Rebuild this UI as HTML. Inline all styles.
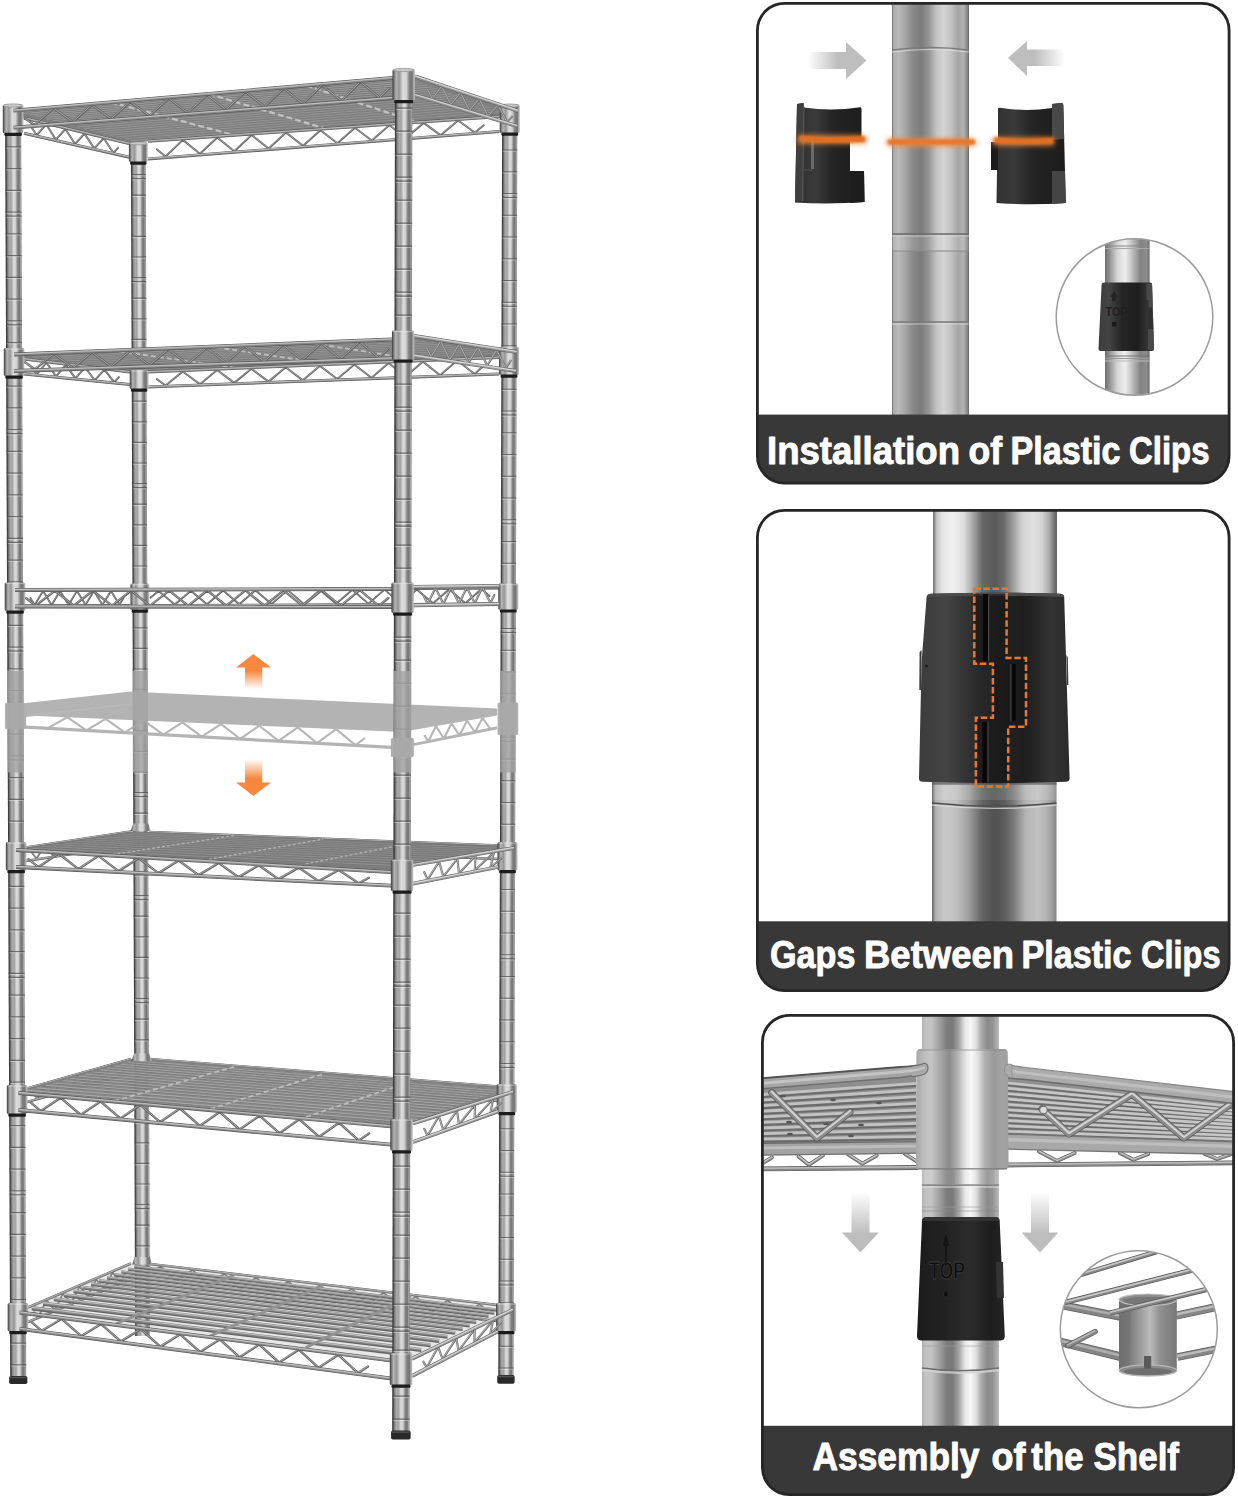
<!DOCTYPE html>
<html lang="en"><head><meta charset="utf-8"><title>Wire shelf assembly</title>
<style>html,body{margin:0;padding:0;background:#fff}svg{display:block}</style></head>
<body>
<svg width="1238" height="1500" viewBox="0 0 1238 1500">

<defs>
  <linearGradient id="gPole" x1="0" x2="1" y1="0" y2="0">
    <stop offset="0" stop-color="#2f2f2f"/>
    <stop offset="0.07" stop-color="#4f4f4f"/>
    <stop offset="0.13" stop-color="#828282"/>
    <stop offset="0.25" stop-color="#acacac"/>
    <stop offset="0.35" stop-color="#a0a0a0"/>
    <stop offset="0.5" stop-color="#dcdcdc"/>
    <stop offset="0.62" stop-color="#d0d0d0"/>
    <stop offset="0.75" stop-color="#828282"/>
    <stop offset="0.86" stop-color="#757575"/>
    <stop offset="0.94" stop-color="#a6a6a6"/>
    <stop offset="1" stop-color="#848484"/>
  </linearGradient>
  <linearGradient id="gCollar" x1="0" x2="1" y1="0" y2="0">
    <stop offset="0" stop-color="#383838"/>
    <stop offset="0.05" stop-color="#646464"/>
    <stop offset="0.16" stop-color="#b4b4b4"/>
    <stop offset="0.3" stop-color="#969696"/>
    <stop offset="0.46" stop-color="#dddddd"/>
    <stop offset="0.62" stop-color="#d4d4d4"/>
    <stop offset="0.76" stop-color="#7f7f7f"/>
    <stop offset="0.88" stop-color="#757575"/>
    <stop offset="0.95" stop-color="#afafaf"/>
    <stop offset="1" stop-color="#bdbdbd"/>
  </linearGradient>
  <linearGradient id="gBig1" x1="0" x2="1" y1="0" y2="0">
    <stop offset="0" stop-color="#555555"/>
    <stop offset="0.015" stop-color="#aaaaaa"/>
    <stop offset="0.08" stop-color="#bababa"/>
    <stop offset="0.16" stop-color="#a9a9a9"/>
    <stop offset="0.27" stop-color="#898989"/>
    <stop offset="0.38" stop-color="#7b7b7b"/>
    <stop offset="0.48" stop-color="#969696"/>
    <stop offset="0.58" stop-color="#c4c4c4"/>
    <stop offset="0.67" stop-color="#d4d4d4"/>
    <stop offset="0.76" stop-color="#c4c4c4"/>
    <stop offset="0.86" stop-color="#a5a5a5"/>
    <stop offset="0.93" stop-color="#b2b2b2"/>
    <stop offset="0.985" stop-color="#828282"/>
    <stop offset="1" stop-color="#606060"/>
  </linearGradient>
  <linearGradient id="gInset" x1="0" x2="1" y1="0" y2="0">
    <stop offset="0" stop-color="#6e6e6e"/>
    <stop offset="0.1" stop-color="#929292"/>
    <stop offset="0.28" stop-color="#d6d6d6"/>
    <stop offset="0.45" stop-color="#efefef"/>
    <stop offset="0.6" stop-color="#c2c2c2"/>
    <stop offset="0.8" stop-color="#828282"/>
    <stop offset="0.93" stop-color="#8e8e8e"/>
    <stop offset="1" stop-color="#6c6c6c"/>
  </linearGradient>
  <linearGradient id="gBig2" x1="0" x2="1" y1="0" y2="0">
    <stop offset="0" stop-color="#6c6c6c"/>
    <stop offset="0.03" stop-color="#c4c4c4"/>
    <stop offset="0.08" stop-color="#e6e6e6"/>
    <stop offset="0.16" stop-color="#f0f0f0"/>
    <stop offset="0.25" stop-color="#dcdcdc"/>
    <stop offset="0.32" stop-color="#a8a8a8"/>
    <stop offset="0.4" stop-color="#686868"/>
    <stop offset="0.5" stop-color="#595959"/>
    <stop offset="0.57" stop-color="#6a6a6a"/>
    <stop offset="0.64" stop-color="#9a9a9a"/>
    <stop offset="0.72" stop-color="#d2d2d2"/>
    <stop offset="0.8" stop-color="#e0e0e0"/>
    <stop offset="0.88" stop-color="#d4d4d4"/>
    <stop offset="0.94" stop-color="#a8a8a8"/>
    <stop offset="0.98" stop-color="#707070"/>
    <stop offset="1" stop-color="#666"/>
  </linearGradient>
  <linearGradient id="gBig2b" x1="0" x2="1" y1="0" y2="0">
    <stop offset="0" stop-color="#666"/>
    <stop offset="0.03" stop-color="#b2b2b2"/>
    <stop offset="0.1" stop-color="#c8c8c8"/>
    <stop offset="0.2" stop-color="#c0c0c0"/>
    <stop offset="0.3" stop-color="#9c9c9c"/>
    <stop offset="0.4" stop-color="#646464"/>
    <stop offset="0.5" stop-color="#515151"/>
    <stop offset="0.58" stop-color="#5c5c5c"/>
    <stop offset="0.66" stop-color="#7c7c7c"/>
    <stop offset="0.75" stop-color="#b4b4b4"/>
    <stop offset="0.85" stop-color="#c2c2c2"/>
    <stop offset="0.92" stop-color="#b2b2b2"/>
    <stop offset="0.97" stop-color="#9a9a9a"/>
    <stop offset="1" stop-color="#808080"/>
  </linearGradient>
  <linearGradient id="gBig3" x1="0" x2="1" y1="0" y2="0">
    <stop offset="0" stop-color="#b0b0b0"/>
    <stop offset="0.04" stop-color="#c2c2c2"/>
    <stop offset="0.12" stop-color="#c4c4c4"/>
    <stop offset="0.22" stop-color="#a2a2a2"/>
    <stop offset="0.32" stop-color="#7d7d7d"/>
    <stop offset="0.4" stop-color="#797979"/>
    <stop offset="0.48" stop-color="#a5a5a5"/>
    <stop offset="0.56" stop-color="#e8e8e8"/>
    <stop offset="0.63" stop-color="#f6f6f6"/>
    <stop offset="0.7" stop-color="#e0e0e0"/>
    <stop offset="0.77" stop-color="#ababab"/>
    <stop offset="0.85" stop-color="#8a8a8a"/>
    <stop offset="0.92" stop-color="#939393"/>
    <stop offset="0.97" stop-color="#adadad"/>
    <stop offset="1" stop-color="#b8b8b8"/>
  </linearGradient>
  <linearGradient id="gSleeve3" x1="0" x2="1" y1="0" y2="0">
    <stop offset="0" stop-color="#a6a6a6"/>
    <stop offset="0.08" stop-color="#bcbcbc"/>
    <stop offset="0.16" stop-color="#c6c6c6"/>
    <stop offset="0.26" stop-color="#a8a8a8"/>
    <stop offset="0.36" stop-color="#8b8b8b"/>
    <stop offset="0.45" stop-color="#b2b2b2"/>
    <stop offset="0.54" stop-color="#e6e6e6"/>
    <stop offset="0.6" stop-color="#f8f8f8"/>
    <stop offset="0.67" stop-color="#e2e2e2"/>
    <stop offset="0.74" stop-color="#b2b2b2"/>
    <stop offset="0.84" stop-color="#999"/>
    <stop offset="0.93" stop-color="#a3a3a3"/>
    <stop offset="1" stop-color="#a0a0a0"/>
  </linearGradient>
  <linearGradient id="gSleeve4" x1="0" x2="1" y1="0" y2="0">
    <stop offset="0" stop-color="#6f6f6f"/>
    <stop offset="0.2" stop-color="#7e7e7e"/>
    <stop offset="0.42" stop-color="#a6a6a6"/>
    <stop offset="0.54" stop-color="#bcbcbc"/>
    <stop offset="0.7" stop-color="#919191"/>
    <stop offset="1" stop-color="#777777"/>
  </linearGradient>
  <linearGradient id="gClip" x1="0" x2="1" y1="0" y2="0">
    <stop offset="0" stop-color="#2e2e2e"/>
    <stop offset="0.3" stop-color="#3a3a3a"/>
    <stop offset="0.55" stop-color="#242424"/>
    <stop offset="1" stop-color="#1c1c1c"/>
  </linearGradient>
  <linearGradient id="gClipBig" x1="0" x2="1" y1="0" y2="0">
    <stop offset="0" stop-color="#3c3c3c"/>
    <stop offset="0.18" stop-color="#444"/>
    <stop offset="0.42" stop-color="#262626"/>
    <stop offset="0.7" stop-color="#1e1e1e"/>
    <stop offset="0.88" stop-color="#333"/>
    <stop offset="1" stop-color="#2a2a2a"/>
  </linearGradient>
  <linearGradient id="gClip3" x1="0" x2="1" y1="0" y2="0">
    <stop offset="0" stop-color="#1b1b1b"/>
    <stop offset="0.3" stop-color="#222"/>
    <stop offset="0.6" stop-color="#2b2b2b"/>
    <stop offset="0.85" stop-color="#1d1d1d"/>
    <stop offset="1" stop-color="#262626"/>
  </linearGradient>
  <linearGradient id="fadeR" x1="0" x2="1" y1="0" y2="0">
    <stop offset="0" stop-color="#bebebe" stop-opacity="0"/>
    <stop offset="0.75" stop-color="#bebebe" stop-opacity="1"/>
  </linearGradient>
  <linearGradient id="fadeL" x1="1" x2="0" y1="0" y2="0">
    <stop offset="0" stop-color="#bebebe" stop-opacity="0"/>
    <stop offset="0.75" stop-color="#bebebe" stop-opacity="1"/>
  </linearGradient>
  <linearGradient id="fadeD" x1="0" x2="0" y1="0" y2="1">
    <stop offset="0" stop-color="#bdbdbd" stop-opacity="0"/>
    <stop offset="1" stop-color="#bdbdbd" stop-opacity="1"/>
  </linearGradient>
  <linearGradient id="fadeOD" x1="0" x2="0" y1="0" y2="1">
    <stop offset="0" stop-color="#f6883f" stop-opacity="0"/>
    <stop offset="0.8" stop-color="#f6883f" stop-opacity="1"/>
  </linearGradient>
  <linearGradient id="fadeOU" x1="0" x2="0" y1="1" y2="0">
    <stop offset="0" stop-color="#f6883f" stop-opacity="0"/>
    <stop offset="0.8" stop-color="#f6883f" stop-opacity="1"/>
  </linearGradient>
  <filter id="blur2" filterUnits="userSpaceOnUse" x="770" y="110" width="320" height="70"><feGaussianBlur stdDeviation="2.4"/></filter>
  <filter id="blur1" filterUnits="userSpaceOnUse" x="770" y="110" width="320" height="70"><feGaussianBlur stdDeviation="0.8"/></filter>
  <clipPath id="cpP1"><rect x="757.5" y="3.5" width="471" height="479" rx="26"/></clipPath>
  <clipPath id="cpP2"><rect x="757.5" y="510.5" width="471" height="480" rx="26"/></clipPath>
  <clipPath id="cpP3"><rect x="762.5" y="1015.5" width="471" height="479" rx="26"/></clipPath>
  <clipPath id="cpC1"><circle cx="1134.5" cy="317" r="78"/></clipPath>
  <clipPath id="cpC2"><circle cx="1138.8" cy="1329.3" r="78"/></clipPath>
</defs>

<rect width="1238" height="1500" fill="#fff"/>
<g id="shelf">
<g transform="matrix(1 0 0.00360 1 137.75 0)">
<rect x="-7.4" y="142.7" width="14.8" height="1193.3" fill="url(#gPole)"/>
<rect x="-7.4" y="153.4" width="14.8" height="1.2" fill="#4f4f4f" opacity=".75"/><rect x="-6.4" y="154.7" width="12.8" height="1" fill="#f2f2f2" opacity=".4"/><rect x="-7.4" y="174" width="14.8" height="1.2" fill="#4f4f4f" opacity=".75"/><rect x="-6.4" y="175.3" width="12.8" height="1" fill="#f2f2f2" opacity=".4"/><rect x="-7.4" y="178" width="14.8" height="1.2" fill="#4f4f4f" opacity=".75"/><rect x="-6.4" y="179.3" width="12.8" height="1" fill="#f2f2f2" opacity=".38"/><rect x="-7.4" y="194.6" width="14.8" height="1.2" fill="#4f4f4f" opacity=".75"/><rect x="-6.4" y="195.9" width="12.8" height="1" fill="#f2f2f2" opacity=".4"/><rect x="-7.4" y="215.2" width="14.8" height="1.2" fill="#4f4f4f" opacity=".75"/><rect x="-6.4" y="216.5" width="12.8" height="1" fill="#f2f2f2" opacity=".4"/><rect x="-7.4" y="235.8" width="14.8" height="1.2" fill="#4f4f4f" opacity=".75"/><rect x="-6.4" y="237.1" width="12.8" height="1" fill="#f2f2f2" opacity=".4"/><rect x="-7.4" y="256.4" width="14.8" height="1.2" fill="#4f4f4f" opacity=".75"/><rect x="-6.4" y="257.7" width="12.8" height="1" fill="#f2f2f2" opacity=".4"/><rect x="-7.4" y="277" width="14.8" height="1.2" fill="#4f4f4f" opacity=".75"/><rect x="-6.4" y="278.3" width="12.8" height="1" fill="#f2f2f2" opacity=".4"/><rect x="-7.4" y="281" width="14.8" height="1.2" fill="#4f4f4f" opacity=".75"/><rect x="-6.4" y="282.3" width="12.8" height="1" fill="#f2f2f2" opacity=".38"/><rect x="-7.4" y="297.6" width="14.8" height="1.2" fill="#4f4f4f" opacity=".75"/><rect x="-6.4" y="298.9" width="12.8" height="1" fill="#f2f2f2" opacity=".4"/><rect x="-7.4" y="318.2" width="14.8" height="1.2" fill="#4f4f4f" opacity=".75"/><rect x="-6.4" y="319.5" width="12.8" height="1" fill="#f2f2f2" opacity=".4"/><rect x="-7.4" y="338.8" width="14.8" height="1.2" fill="#4f4f4f" opacity=".75"/><rect x="-6.4" y="340.1" width="12.8" height="1" fill="#f2f2f2" opacity=".4"/><rect x="-7.4" y="359.4" width="14.8" height="1.2" fill="#4f4f4f" opacity=".75"/><rect x="-6.4" y="360.7" width="12.8" height="1" fill="#f2f2f2" opacity=".4"/><rect x="-7.4" y="380" width="14.8" height="1.2" fill="#4f4f4f" opacity=".75"/><rect x="-6.4" y="381.3" width="12.8" height="1" fill="#f2f2f2" opacity=".4"/><rect x="-7.4" y="384" width="14.8" height="1.2" fill="#4f4f4f" opacity=".75"/><rect x="-6.4" y="385.3" width="12.8" height="1" fill="#f2f2f2" opacity=".38"/><rect x="-7.4" y="400.6" width="14.8" height="1.2" fill="#4f4f4f" opacity=".75"/><rect x="-6.4" y="401.9" width="12.8" height="1" fill="#f2f2f2" opacity=".4"/><rect x="-7.4" y="421.2" width="14.8" height="1.2" fill="#4f4f4f" opacity=".75"/><rect x="-6.4" y="422.5" width="12.8" height="1" fill="#f2f2f2" opacity=".4"/><rect x="-7.4" y="441.8" width="14.8" height="1.2" fill="#4f4f4f" opacity=".75"/><rect x="-6.4" y="443.1" width="12.8" height="1" fill="#f2f2f2" opacity=".4"/><rect x="-7.4" y="462.4" width="14.8" height="1.2" fill="#4f4f4f" opacity=".75"/><rect x="-6.4" y="463.7" width="12.8" height="1" fill="#f2f2f2" opacity=".4"/><rect x="-7.4" y="483" width="14.8" height="1.2" fill="#4f4f4f" opacity=".75"/><rect x="-6.4" y="484.3" width="12.8" height="1" fill="#f2f2f2" opacity=".4"/><rect x="-7.4" y="487" width="14.8" height="1.2" fill="#4f4f4f" opacity=".75"/><rect x="-6.4" y="488.3" width="12.8" height="1" fill="#f2f2f2" opacity=".38"/><rect x="-7.4" y="503.6" width="14.8" height="1.2" fill="#4f4f4f" opacity=".75"/><rect x="-6.4" y="504.9" width="12.8" height="1" fill="#f2f2f2" opacity=".4"/><rect x="-7.4" y="524.2" width="14.8" height="1.2" fill="#4f4f4f" opacity=".75"/><rect x="-6.4" y="525.5" width="12.8" height="1" fill="#f2f2f2" opacity=".4"/><rect x="-7.4" y="544.8" width="14.8" height="1.2" fill="#4f4f4f" opacity=".75"/><rect x="-6.4" y="546.1" width="12.8" height="1" fill="#f2f2f2" opacity=".4"/><rect x="-7.4" y="565.4" width="14.8" height="1.2" fill="#4f4f4f" opacity=".75"/><rect x="-6.4" y="566.7" width="12.8" height="1" fill="#f2f2f2" opacity=".4"/><rect x="-7.4" y="586" width="14.8" height="1.2" fill="#4f4f4f" opacity=".75"/><rect x="-6.4" y="587.3" width="12.8" height="1" fill="#f2f2f2" opacity=".4"/><rect x="-7.4" y="590" width="14.8" height="1.2" fill="#4f4f4f" opacity=".75"/><rect x="-6.4" y="591.3" width="12.8" height="1" fill="#f2f2f2" opacity=".38"/><rect x="-7.4" y="606.6" width="14.8" height="1.2" fill="#4f4f4f" opacity=".75"/><rect x="-6.4" y="607.9" width="12.8" height="1" fill="#f2f2f2" opacity=".4"/><rect x="-7.4" y="627.2" width="14.8" height="1.2" fill="#4f4f4f" opacity=".75"/><rect x="-6.4" y="628.5" width="12.8" height="1" fill="#f2f2f2" opacity=".4"/><rect x="-7.4" y="647.8" width="14.8" height="1.2" fill="#4f4f4f" opacity=".75"/><rect x="-6.4" y="649.1" width="12.8" height="1" fill="#f2f2f2" opacity=".4"/><rect x="-7.4" y="668.4" width="14.8" height="1.2" fill="#4f4f4f" opacity=".75"/><rect x="-6.4" y="669.7" width="12.8" height="1" fill="#f2f2f2" opacity=".4"/><rect x="-7.4" y="689" width="14.8" height="1.2" fill="#4f4f4f" opacity=".75"/><rect x="-6.4" y="690.3" width="12.8" height="1" fill="#f2f2f2" opacity=".4"/><rect x="-7.4" y="693" width="14.8" height="1.2" fill="#4f4f4f" opacity=".75"/><rect x="-6.4" y="694.3" width="12.8" height="1" fill="#f2f2f2" opacity=".38"/><rect x="-7.4" y="709.6" width="14.8" height="1.2" fill="#4f4f4f" opacity=".75"/><rect x="-6.4" y="710.9" width="12.8" height="1" fill="#f2f2f2" opacity=".4"/><rect x="-7.4" y="730.2" width="14.8" height="1.2" fill="#4f4f4f" opacity=".75"/><rect x="-6.4" y="731.5" width="12.8" height="1" fill="#f2f2f2" opacity=".4"/><rect x="-7.4" y="750.8" width="14.8" height="1.2" fill="#4f4f4f" opacity=".75"/><rect x="-6.4" y="752.1" width="12.8" height="1" fill="#f2f2f2" opacity=".4"/><rect x="-7.4" y="771.4" width="14.8" height="1.2" fill="#4f4f4f" opacity=".75"/><rect x="-6.4" y="772.7" width="12.8" height="1" fill="#f2f2f2" opacity=".4"/><rect x="-7.4" y="792" width="14.8" height="1.2" fill="#4f4f4f" opacity=".75"/><rect x="-6.4" y="793.3" width="12.8" height="1" fill="#f2f2f2" opacity=".4"/><rect x="-7.4" y="796" width="14.8" height="1.2" fill="#4f4f4f" opacity=".75"/><rect x="-6.4" y="797.3" width="12.8" height="1" fill="#f2f2f2" opacity=".38"/><rect x="-7.4" y="812.6" width="14.8" height="1.2" fill="#4f4f4f" opacity=".75"/><rect x="-6.4" y="813.9" width="12.8" height="1" fill="#f2f2f2" opacity=".4"/><rect x="-7.4" y="833.2" width="14.8" height="1.2" fill="#4f4f4f" opacity=".75"/><rect x="-6.4" y="834.5" width="12.8" height="1" fill="#f2f2f2" opacity=".4"/><rect x="-7.4" y="853.8" width="14.8" height="1.2" fill="#4f4f4f" opacity=".75"/><rect x="-6.4" y="855.1" width="12.8" height="1" fill="#f2f2f2" opacity=".4"/><rect x="-7.4" y="874.4" width="14.8" height="1.2" fill="#4f4f4f" opacity=".75"/><rect x="-6.4" y="875.7" width="12.8" height="1" fill="#f2f2f2" opacity=".4"/><rect x="-7.4" y="895" width="14.8" height="1.2" fill="#4f4f4f" opacity=".75"/><rect x="-6.4" y="896.3" width="12.8" height="1" fill="#f2f2f2" opacity=".4"/><rect x="-7.4" y="899" width="14.8" height="1.2" fill="#4f4f4f" opacity=".75"/><rect x="-6.4" y="900.3" width="12.8" height="1" fill="#f2f2f2" opacity=".38"/><rect x="-7.4" y="915.6" width="14.8" height="1.2" fill="#4f4f4f" opacity=".75"/><rect x="-6.4" y="916.9" width="12.8" height="1" fill="#f2f2f2" opacity=".4"/><rect x="-7.4" y="936.2" width="14.8" height="1.2" fill="#4f4f4f" opacity=".75"/><rect x="-6.4" y="937.5" width="12.8" height="1" fill="#f2f2f2" opacity=".4"/><rect x="-7.4" y="956.8" width="14.8" height="1.2" fill="#4f4f4f" opacity=".75"/><rect x="-6.4" y="958.1" width="12.8" height="1" fill="#f2f2f2" opacity=".4"/><rect x="-7.4" y="977.4" width="14.8" height="1.2" fill="#4f4f4f" opacity=".75"/><rect x="-6.4" y="978.7" width="12.8" height="1" fill="#f2f2f2" opacity=".4"/><rect x="-7.4" y="998" width="14.8" height="1.2" fill="#4f4f4f" opacity=".75"/><rect x="-6.4" y="999.3" width="12.8" height="1" fill="#f2f2f2" opacity=".4"/><rect x="-7.4" y="1002" width="14.8" height="1.2" fill="#4f4f4f" opacity=".75"/><rect x="-6.4" y="1003.3" width="12.8" height="1" fill="#f2f2f2" opacity=".38"/><rect x="-7.4" y="1018.6" width="14.8" height="1.2" fill="#4f4f4f" opacity=".75"/><rect x="-6.4" y="1019.9" width="12.8" height="1" fill="#f2f2f2" opacity=".4"/><rect x="-7.4" y="1039.2" width="14.8" height="1.2" fill="#4f4f4f" opacity=".75"/><rect x="-6.4" y="1040.5" width="12.8" height="1" fill="#f2f2f2" opacity=".4"/><rect x="-7.4" y="1059.8" width="14.8" height="1.2" fill="#4f4f4f" opacity=".75"/><rect x="-6.4" y="1061.1" width="12.8" height="1" fill="#f2f2f2" opacity=".4"/><rect x="-7.4" y="1080.4" width="14.8" height="1.2" fill="#4f4f4f" opacity=".75"/><rect x="-6.4" y="1081.7" width="12.8" height="1" fill="#f2f2f2" opacity=".4"/><rect x="-7.4" y="1101" width="14.8" height="1.2" fill="#4f4f4f" opacity=".75"/><rect x="-6.4" y="1102.3" width="12.8" height="1" fill="#f2f2f2" opacity=".4"/><rect x="-7.4" y="1105" width="14.8" height="1.2" fill="#4f4f4f" opacity=".75"/><rect x="-6.4" y="1106.3" width="12.8" height="1" fill="#f2f2f2" opacity=".38"/><rect x="-7.4" y="1121.6" width="14.8" height="1.2" fill="#4f4f4f" opacity=".75"/><rect x="-6.4" y="1122.9" width="12.8" height="1" fill="#f2f2f2" opacity=".4"/><rect x="-7.4" y="1142.2" width="14.8" height="1.2" fill="#4f4f4f" opacity=".75"/><rect x="-6.4" y="1143.5" width="12.8" height="1" fill="#f2f2f2" opacity=".4"/><rect x="-7.4" y="1162.8" width="14.8" height="1.2" fill="#4f4f4f" opacity=".75"/><rect x="-6.4" y="1164.1" width="12.8" height="1" fill="#f2f2f2" opacity=".4"/><rect x="-7.4" y="1183.4" width="14.8" height="1.2" fill="#4f4f4f" opacity=".75"/><rect x="-6.4" y="1184.7" width="12.8" height="1" fill="#f2f2f2" opacity=".4"/><rect x="-7.4" y="1204" width="14.8" height="1.2" fill="#4f4f4f" opacity=".75"/><rect x="-6.4" y="1205.3" width="12.8" height="1" fill="#f2f2f2" opacity=".4"/><rect x="-7.4" y="1208" width="14.8" height="1.2" fill="#4f4f4f" opacity=".75"/><rect x="-6.4" y="1209.3" width="12.8" height="1" fill="#f2f2f2" opacity=".38"/><rect x="-7.4" y="1224.6" width="14.8" height="1.2" fill="#4f4f4f" opacity=".75"/><rect x="-6.4" y="1225.9" width="12.8" height="1" fill="#f2f2f2" opacity=".4"/><rect x="-7.4" y="1245.2" width="14.8" height="1.2" fill="#4f4f4f" opacity=".75"/><rect x="-6.4" y="1246.5" width="12.8" height="1" fill="#f2f2f2" opacity=".4"/><rect x="-7.4" y="1265.8" width="14.8" height="1.2" fill="#4f4f4f" opacity=".75"/><rect x="-6.4" y="1267.1" width="12.8" height="1" fill="#f2f2f2" opacity=".4"/><rect x="-7.4" y="1286.4" width="14.8" height="1.2" fill="#4f4f4f" opacity=".75"/><rect x="-6.4" y="1287.7" width="12.8" height="1" fill="#f2f2f2" opacity=".4"/><rect x="-7.4" y="1307" width="14.8" height="1.2" fill="#4f4f4f" opacity=".75"/><rect x="-6.4" y="1308.3" width="12.8" height="1" fill="#f2f2f2" opacity=".4"/><rect x="-7.4" y="1311" width="14.8" height="1.2" fill="#4f4f4f" opacity=".75"/><rect x="-6.4" y="1312.3" width="12.8" height="1" fill="#f2f2f2" opacity=".38"/><rect x="-7.4" y="1327.6" width="14.8" height="1.2" fill="#4f4f4f" opacity=".75"/><rect x="-6.4" y="1328.9" width="12.8" height="1" fill="#f2f2f2" opacity=".4"/>
</g>
<polyline points="151.44,838.59 159.47,833.19 175.52,845.28 191.58,834.43 207.63,846.57 223.69,835.68 239.74,847.85 255.79,836.92 271.85,849.14 287.9,838.16 303.96,850.42 320.01,839.41 336.06,851.71 352.12,840.65 368.17,852.99 384.23,841.9 400.28,854.28 416.33,843.14 432.39,855.56 448.44,844.39 464.5,856.85 480.55,845.63 488.58,851.88" fill="none" stroke="#656565" stroke-width="1.8" stroke-linejoin="round" stroke-linecap="round"/>
<polyline points="151.24,838.34 159.27,832.94 175.32,845.03 191.38,834.18 207.43,846.32 223.49,835.43 239.54,847.6 255.59,836.67 271.65,848.89 287.7,837.91 303.76,850.17 319.81,839.16 335.86,851.46 351.92,840.4 367.97,852.74 384.03,841.65 400.08,854.03 416.13,842.89 432.19,855.31 448.24,844.14 464.3,856.6 480.35,845.38 488.38,851.63" fill="none" stroke="#a8a8a8" stroke-width="0.72" stroke-linejoin="round" stroke-linecap="round"/>
<line x1="149" y1="845" x2="498" y2="859" stroke="#585858" stroke-width="2.6" stroke-linecap="butt"/>
<line x1="149" y1="845" x2="498" y2="859" stroke="#888888" stroke-width="1.4" stroke-linecap="butt"/>
<line x1="149.01" y1="844.64" x2="498.01" y2="858.64" stroke="#bebebe" stroke-width="0.83" stroke-linecap="butt"/>
<line x1="149" y1="832" x2="498" y2="845.5" stroke="#585858" stroke-width="2.6" stroke-linecap="butt"/>
<line x1="149" y1="832" x2="498" y2="845.5" stroke="#888888" stroke-width="1.4" stroke-linecap="butt"/>
<line x1="149.01" y1="831.64" x2="498.01" y2="845.14" stroke="#bebebe" stroke-width="0.83" stroke-linecap="butt"/>
<polyline points="32.3,853.29 36.5,858.59 44.9,845.43 53.3,856.03 61.7,842.87 70.1,853.47 78.5,840.31 86.9,850.91 95.3,837.75 103.7,848.35 112.1,835.19 120.5,845.79 124.7,839.21" fill="none" stroke="#656565" stroke-width="1.8" stroke-linejoin="round" stroke-linecap="round"/>
<polyline points="32.1,853.04 36.3,858.34 44.7,845.18 53.1,855.78 61.5,842.62 69.9,853.22 78.3,840.06 86.7,850.66 95.1,837.5 103.5,848.1 111.9,834.94 120.3,845.54 124.5,838.96" fill="none" stroke="#a8a8a8" stroke-width="0.72" stroke-linejoin="round" stroke-linecap="round"/>
<line x1="26" y1="861" x2="131" y2="845" stroke="#585858" stroke-width="2.6" stroke-linecap="butt"/>
<line x1="26" y1="861" x2="131" y2="845" stroke="#888888" stroke-width="1.4" stroke-linecap="butt"/>
<line x1="25.95" y1="860.64" x2="130.95" y2="844.64" stroke="#bebebe" stroke-width="0.83" stroke-linecap="butt"/>
<line x1="26" y1="847.5" x2="131" y2="831.5" stroke="#585858" stroke-width="2.6" stroke-linecap="butt"/>
<line x1="26" y1="847.5" x2="131" y2="831.5" stroke="#888888" stroke-width="1.4" stroke-linecap="butt"/>
<line x1="25.95" y1="847.14" x2="130.95" y2="831.14" stroke="#bebebe" stroke-width="0.83" stroke-linecap="butt"/>
<polyline points="151.44,1066.19 159.47,1060.67 175.52,1074.29 191.58,1063.2 207.63,1076.86 223.69,1065.73 239.74,1079.43 255.79,1068.26 271.85,1082.01 287.9,1070.8 303.96,1084.58 320.01,1073.33 336.06,1087.15 352.12,1075.86 368.17,1089.73 384.23,1078.4 400.28,1092.3 416.33,1080.93 432.39,1094.87 448.44,1083.46 464.5,1097.44 480.55,1085.99 488.58,1093.01" fill="none" stroke="#656565" stroke-width="1.8" stroke-linejoin="round" stroke-linecap="round"/>
<polyline points="151.24,1065.94 159.27,1060.42 175.32,1074.04 191.38,1062.95 207.43,1076.61 223.49,1065.48 239.54,1079.18 255.59,1068.01 271.65,1081.76 287.7,1070.55 303.76,1084.33 319.81,1073.08 335.86,1086.9 351.92,1075.61 367.97,1089.48 384.03,1078.15 400.08,1092.05 416.13,1080.68 432.19,1094.62 448.24,1083.21 464.3,1097.19 480.35,1085.74 488.38,1092.76" fill="none" stroke="#a8a8a8" stroke-width="0.72" stroke-linejoin="round" stroke-linecap="round"/>
<line x1="149" y1="1073" x2="498" y2="1101" stroke="#585858" stroke-width="2.6" stroke-linecap="butt"/>
<line x1="149" y1="1073" x2="498" y2="1101" stroke="#888888" stroke-width="1.4" stroke-linecap="butt"/>
<line x1="149.03" y1="1072.64" x2="498.03" y2="1100.64" stroke="#bebebe" stroke-width="0.83" stroke-linecap="butt"/>
<line x1="149" y1="1059" x2="498" y2="1086.5" stroke="#585858" stroke-width="2.6" stroke-linecap="butt"/>
<line x1="149" y1="1059" x2="498" y2="1086.5" stroke="#888888" stroke-width="1.4" stroke-linecap="butt"/>
<line x1="149.03" y1="1058.64" x2="498.03" y2="1086.14" stroke="#bebebe" stroke-width="0.83" stroke-linecap="butt"/>
<polyline points="33.24,1093.5 37.4,1098.29 45.72,1084.01 54.04,1093.64 62.36,1079.29 70.68,1089 79,1074.58 87.32,1084.35 95.64,1069.86 103.96,1079.71 112.28,1065.14 120.6,1075.06 124.76,1067.75" fill="none" stroke="#656565" stroke-width="1.8" stroke-linejoin="round" stroke-linecap="round"/>
<polyline points="33.04,1093.25 37.2,1098.04 45.52,1083.76 53.84,1093.39 62.16,1079.04 70.48,1088.75 78.8,1074.33 87.12,1084.1 95.44,1069.61 103.76,1079.46 112.08,1064.89 120.4,1074.81 124.56,1067.5" fill="none" stroke="#a8a8a8" stroke-width="0.72" stroke-linejoin="round" stroke-linecap="round"/>
<line x1="27" y1="1102" x2="131" y2="1073" stroke="#585858" stroke-width="2.6" stroke-linecap="butt"/>
<line x1="27" y1="1102" x2="131" y2="1073" stroke="#888888" stroke-width="1.4" stroke-linecap="butt"/>
<line x1="26.9" y1="1101.65" x2="130.9" y2="1072.65" stroke="#bebebe" stroke-width="0.83" stroke-linecap="butt"/>
<line x1="27" y1="1088.5" x2="131" y2="1059" stroke="#585858" stroke-width="2.6" stroke-linecap="butt"/>
<line x1="27" y1="1088.5" x2="131" y2="1059" stroke="#888888" stroke-width="1.4" stroke-linecap="butt"/>
<line x1="26.9" y1="1088.15" x2="130.9" y2="1058.65" stroke="#bebebe" stroke-width="0.83" stroke-linecap="butt"/>
<polyline points="152.43,1271.78 160.41,1266.13 176.37,1281.29 192.33,1269.91 208.3,1285.15 224.26,1273.69 240.22,1289 256.18,1277.46 272.14,1292.86 288.11,1281.24 304.07,1296.72 320.03,1285.02 335.99,1300.58 351.95,1288.8 367.92,1304.44 383.88,1292.57 399.84,1308.3 415.8,1296.35 431.76,1312.16 447.73,1300.13 463.69,1316.01 479.65,1303.91 487.63,1311.89" fill="none" stroke="#656565" stroke-width="1.8" stroke-linejoin="round" stroke-linecap="round"/>
<polyline points="152.23,1271.53 160.21,1265.88 176.17,1281.04 192.13,1269.66 208.1,1284.9 224.06,1273.44 240.02,1288.75 255.98,1277.21 271.94,1292.61 287.91,1280.99 303.87,1296.47 319.83,1284.77 335.79,1300.33 351.75,1288.55 367.72,1304.19 383.68,1292.32 399.64,1308.05 415.6,1296.1 431.56,1311.91 447.53,1299.88 463.49,1315.76 479.45,1303.66 487.43,1311.64" fill="none" stroke="#a8a8a8" stroke-width="0.72" stroke-linejoin="round" stroke-linecap="round"/>
<line x1="150" y1="1279" x2="497" y2="1321" stroke="#585858" stroke-width="2.6" stroke-linecap="butt"/>
<line x1="150" y1="1279" x2="497" y2="1321" stroke="#888888" stroke-width="1.4" stroke-linecap="butt"/>
<line x1="150.04" y1="1278.64" x2="497.04" y2="1320.64" stroke="#bebebe" stroke-width="0.83" stroke-linecap="butt"/>
<line x1="150" y1="1264" x2="497" y2="1305" stroke="#585858" stroke-width="2.6" stroke-linecap="butt"/>
<line x1="150" y1="1264" x2="497" y2="1305" stroke="#888888" stroke-width="1.4" stroke-linecap="butt"/>
<line x1="150.04" y1="1263.64" x2="497.04" y2="1304.64" stroke="#bebebe" stroke-width="0.83" stroke-linecap="butt"/>
<polyline points="34.18,1312.16 38.3,1316.82 46.54,1300.46 54.78,1309.93 63.02,1293.43 71.26,1303.04 79.5,1286.4 87.74,1296.16 95.98,1279.37 104.22,1289.27 112.46,1272.34 120.7,1282.38 124.82,1273.84" fill="none" stroke="#656565" stroke-width="1.8" stroke-linejoin="round" stroke-linecap="round"/>
<polyline points="33.98,1311.91 38.1,1316.57 46.34,1300.21 54.58,1309.68 62.82,1293.18 71.06,1302.79 79.3,1286.15 87.54,1295.91 95.78,1279.12 104.02,1289.02 112.26,1272.09 120.5,1282.13 124.62,1273.59" fill="none" stroke="#a8a8a8" stroke-width="0.72" stroke-linejoin="round" stroke-linecap="round"/>
<line x1="28" y1="1322" x2="131" y2="1279" stroke="#585858" stroke-width="2.6" stroke-linecap="butt"/>
<line x1="28" y1="1322" x2="131" y2="1279" stroke="#888888" stroke-width="1.4" stroke-linecap="butt"/>
<line x1="27.86" y1="1321.66" x2="130.86" y2="1278.66" stroke="#bebebe" stroke-width="0.83" stroke-linecap="butt"/>
<line x1="28" y1="1307.5" x2="131" y2="1263.5" stroke="#585858" stroke-width="2.6" stroke-linecap="butt"/>
<line x1="28" y1="1307.5" x2="131" y2="1263.5" stroke="#888888" stroke-width="1.4" stroke-linecap="butt"/>
<line x1="27.86" y1="1307.17" x2="130.86" y2="1263.17" stroke="#bebebe" stroke-width="0.83" stroke-linecap="butt"/>
<polygon points="16,850 26,847.5 131,831.5 149,832 498,845.5 514,848 413,865 391,872.2" fill="#787878" opacity="0.97"/>
<line x1="28.65" y1="848.62" x2="412.61" y2="866.85" stroke="#6f6f6f" stroke-width="0.61" opacity="1"/><line x1="28.65" y1="848.14" x2="412.61" y2="866.37" stroke="#959595" stroke-width="0.87" opacity="1"/><line x1="40.8" y1="846.82" x2="422.8" y2="864.7" stroke="#6f6f6f" stroke-width="0.59" opacity="1"/><line x1="40.8" y1="846.35" x2="422.8" y2="864.23" stroke="#959595" stroke-width="0.85" opacity="1"/><line x1="52.47" y1="845.08" x2="432.59" y2="862.62" stroke="#6f6f6f" stroke-width="0.57" opacity="1"/><line x1="52.47" y1="844.63" x2="432.59" y2="862.17" stroke="#959595" stroke-width="0.82" opacity="1"/><line x1="63.69" y1="843.42" x2="442" y2="860.63" stroke="#6f6f6f" stroke-width="0.56" opacity="1"/><line x1="63.69" y1="842.98" x2="442" y2="860.2" stroke="#959595" stroke-width="0.8" opacity="1"/><line x1="74.49" y1="841.82" x2="451.06" y2="858.72" stroke="#6f6f6f" stroke-width="0.54" opacity="1"/><line x1="74.49" y1="841.39" x2="451.06" y2="858.29" stroke="#959595" stroke-width="0.77" opacity="1"/><line x1="84.89" y1="840.27" x2="459.78" y2="856.87" stroke="#6f6f6f" stroke-width="0.52" opacity="1"/><line x1="84.89" y1="839.86" x2="459.78" y2="856.46" stroke="#959595" stroke-width="0.75" opacity="1"/><line x1="94.91" y1="838.79" x2="468.18" y2="855.1" stroke="#6f6f6f" stroke-width="0.51" opacity="1"/><line x1="94.91" y1="838.39" x2="468.18" y2="854.7" stroke="#959595" stroke-width="0.73" opacity="1"/><line x1="104.57" y1="837.35" x2="476.29" y2="853.38" stroke="#6f6f6f" stroke-width="0.49" opacity="1"/><line x1="104.57" y1="836.96" x2="476.29" y2="852.99" stroke="#959595" stroke-width="0.71" opacity="1"/><line x1="113.89" y1="835.97" x2="484.11" y2="851.73" stroke="#6f6f6f" stroke-width="0.48" opacity="1"/><line x1="113.89" y1="835.59" x2="484.11" y2="851.35" stroke="#959595" stroke-width="0.69" opacity="1"/><line x1="122.9" y1="834.63" x2="491.66" y2="850.13" stroke="#6f6f6f" stroke-width="0.47" opacity="1"/><line x1="122.9" y1="834.27" x2="491.66" y2="849.76" stroke="#959595" stroke-width="0.67" opacity="1"/><line x1="131.59" y1="833.34" x2="498.95" y2="848.59" stroke="#6f6f6f" stroke-width="0.45" opacity="1"/><line x1="131.59" y1="832.99" x2="498.95" y2="848.23" stroke="#959595" stroke-width="0.65" opacity="1"/>
<line x1="112.5" y1="854.65" x2="234.25" y2="835.61" stroke="#b4b4b4" stroke-width="1.3" stroke-dasharray="3 2"/>
<line x1="209" y1="859.3" x2="323" y2="839.25" stroke="#b4b4b4" stroke-width="1.3" stroke-dasharray="3 2"/>
<line x1="305.5" y1="863.95" x2="411.75" y2="842.89" stroke="#b4b4b4" stroke-width="1.3" stroke-dasharray="3 2"/>
<polygon points="18.5,1093 27,1088.5 131,1059 149,1059 498,1086.5 513,1091.8 413,1123.4 391,1126.4" fill="#7f7f7f" opacity="0.93"/>
<line x1="27.85" y1="1091.03" x2="409.96" y2="1122.79" stroke="#6e6e6e" stroke-width="0.82" opacity="1"/><line x1="27.85" y1="1090.38" x2="409.96" y2="1122.15" stroke="#a6a6a6" stroke-width="1.17" opacity="1"/><line x1="36.91" y1="1088.48" x2="417.68" y2="1120.11" stroke="#6e6e6e" stroke-width="0.8" opacity="1"/><line x1="36.91" y1="1087.85" x2="417.68" y2="1119.48" stroke="#a6a6a6" stroke-width="1.15" opacity="1"/><line x1="45.7" y1="1086" x2="425.17" y2="1117.51" stroke="#6e6e6e" stroke-width="0.78" opacity="1"/><line x1="45.7" y1="1085.39" x2="425.17" y2="1116.9" stroke="#a6a6a6" stroke-width="1.12" opacity="1"/><line x1="54.24" y1="1083.6" x2="432.44" y2="1114.99" stroke="#6e6e6e" stroke-width="0.77" opacity="1"/><line x1="54.24" y1="1083" x2="432.44" y2="1114.39" stroke="#a6a6a6" stroke-width="1.09" opacity="1"/><line x1="62.52" y1="1081.27" x2="439.5" y2="1112.54" stroke="#6e6e6e" stroke-width="0.75" opacity="1"/><line x1="62.52" y1="1080.68" x2="439.5" y2="1111.95" stroke="#a6a6a6" stroke-width="1.07" opacity="1"/><line x1="70.57" y1="1079" x2="446.36" y2="1110.15" stroke="#6e6e6e" stroke-width="0.73" opacity="1"/><line x1="70.57" y1="1078.43" x2="446.36" y2="1109.58" stroke="#a6a6a6" stroke-width="1.05" opacity="1"/><line x1="78.39" y1="1076.8" x2="453.02" y2="1107.84" stroke="#6e6e6e" stroke-width="0.72" opacity="1"/><line x1="78.39" y1="1076.24" x2="453.02" y2="1107.28" stroke="#a6a6a6" stroke-width="1.02" opacity="1"/><line x1="86" y1="1074.66" x2="459.5" y2="1105.59" stroke="#6e6e6e" stroke-width="0.7" opacity="1"/><line x1="86" y1="1074.11" x2="459.5" y2="1105.04" stroke="#a6a6a6" stroke-width="1" opacity="1"/><line x1="93.4" y1="1072.58" x2="465.8" y2="1103.4" stroke="#6e6e6e" stroke-width="0.68" opacity="1"/><line x1="93.4" y1="1072.04" x2="465.8" y2="1102.86" stroke="#a6a6a6" stroke-width="0.98" opacity="1"/><line x1="100.59" y1="1070.55" x2="471.93" y2="1101.27" stroke="#6e6e6e" stroke-width="0.67" opacity="1"/><line x1="100.59" y1="1070.03" x2="471.93" y2="1100.74" stroke="#a6a6a6" stroke-width="0.96" opacity="1"/><line x1="107.6" y1="1068.58" x2="477.9" y2="1099.2" stroke="#6e6e6e" stroke-width="0.66" opacity="1"/><line x1="107.6" y1="1068.07" x2="477.9" y2="1098.68" stroke="#a6a6a6" stroke-width="0.94" opacity="1"/><line x1="114.42" y1="1066.66" x2="483.71" y2="1097.18" stroke="#6e6e6e" stroke-width="0.64" opacity="1"/><line x1="114.42" y1="1066.16" x2="483.71" y2="1096.68" stroke="#a6a6a6" stroke-width="0.92" opacity="1"/><line x1="121.06" y1="1064.79" x2="489.37" y2="1095.21" stroke="#6e6e6e" stroke-width="0.63" opacity="1"/><line x1="121.06" y1="1064.3" x2="489.37" y2="1094.72" stroke="#a6a6a6" stroke-width="0.9" opacity="1"/><line x1="127.54" y1="1062.97" x2="494.88" y2="1093.3" stroke="#6e6e6e" stroke-width="0.61" opacity="1"/><line x1="127.54" y1="1062.49" x2="494.88" y2="1092.82" stroke="#a6a6a6" stroke-width="0.88" opacity="1"/><line x1="133.85" y1="1061.19" x2="500.26" y2="1091.43" stroke="#6e6e6e" stroke-width="0.6" opacity="1"/><line x1="133.85" y1="1060.72" x2="500.26" y2="1090.96" stroke="#a6a6a6" stroke-width="0.86" opacity="1"/>
<line x1="114.38" y1="1100.97" x2="234.12" y2="1066.76" stroke="#bdbdbd" stroke-width="1.8" stroke-dasharray="5 3"/>
<line x1="210.25" y1="1108.95" x2="322.75" y2="1074.08" stroke="#bdbdbd" stroke-width="1.8" stroke-dasharray="5 3"/>
<line x1="306.12" y1="1116.93" x2="411.38" y2="1081.39" stroke="#bdbdbd" stroke-width="1.8" stroke-dasharray="5 3"/>
<polygon points="19.6,1312.5 28,1307.5 131,1263.5 150,1264 497,1305 513,1309.6 412,1358.7 390,1360.4" fill="#9a9a9a" opacity="0.24"/>
<line x1="31.73" y1="1309.32" x2="411.44" y2="1356.01" stroke="#626262" stroke-width="2.17" opacity="1"/><line x1="31.73" y1="1307.61" x2="411.44" y2="1354.31" stroke="#868686" stroke-width="3.1" opacity="1"/><line x1="31.73" y1="1307.21" x2="411.44" y2="1353.91" stroke="#c4c4c4" stroke-width="1.09" opacity="1"/><line x1="43.13" y1="1304.67" x2="421.24" y2="1351.04" stroke="#626262" stroke-width="2.11" opacity="1"/><line x1="43.13" y1="1303.01" x2="421.24" y2="1349.38" stroke="#868686" stroke-width="3.01" opacity="1"/><line x1="43.13" y1="1302.61" x2="421.24" y2="1348.98" stroke="#c4c4c4" stroke-width="1.05" opacity="1"/><line x1="53.86" y1="1300.3" x2="430.47" y2="1346.35" stroke="#626262" stroke-width="2.05" opacity="1"/><line x1="53.86" y1="1298.68" x2="430.47" y2="1344.74" stroke="#868686" stroke-width="2.93" opacity="1"/><line x1="53.86" y1="1298.28" x2="430.47" y2="1344.34" stroke="#c4c4c4" stroke-width="1.02" opacity="1"/><line x1="63.98" y1="1296.17" x2="439.18" y2="1341.94" stroke="#626262" stroke-width="1.99" opacity="1"/><line x1="63.98" y1="1294.6" x2="439.18" y2="1340.37" stroke="#868686" stroke-width="2.85" opacity="1"/><line x1="63.98" y1="1294.2" x2="439.18" y2="1339.97" stroke="#c4c4c4" stroke-width="1" opacity="1"/><line x1="73.54" y1="1292.27" x2="447.4" y2="1337.76" stroke="#626262" stroke-width="1.94" opacity="1"/><line x1="73.54" y1="1290.75" x2="447.4" y2="1336.24" stroke="#868686" stroke-width="2.77" opacity="1"/><line x1="73.54" y1="1290.35" x2="447.4" y2="1335.84" stroke="#c4c4c4" stroke-width="0.97" opacity="1"/><line x1="82.58" y1="1288.59" x2="455.18" y2="1333.81" stroke="#626262" stroke-width="1.89" opacity="1"/><line x1="82.58" y1="1287.1" x2="455.18" y2="1332.33" stroke="#868686" stroke-width="2.7" opacity="1"/><line x1="82.58" y1="1286.7" x2="455.18" y2="1331.93" stroke="#c4c4c4" stroke-width="0.94" opacity="1"/><line x1="91.15" y1="1285.1" x2="462.55" y2="1330.07" stroke="#626262" stroke-width="1.84" opacity="1"/><line x1="91.15" y1="1283.65" x2="462.55" y2="1328.63" stroke="#868686" stroke-width="2.63" opacity="1"/><line x1="91.15" y1="1283.25" x2="462.55" y2="1328.23" stroke="#c4c4c4" stroke-width="0.92" opacity="1"/><line x1="99.28" y1="1281.78" x2="469.55" y2="1326.52" stroke="#626262" stroke-width="1.8" opacity="1"/><line x1="99.28" y1="1280.37" x2="469.55" y2="1325.11" stroke="#868686" stroke-width="2.57" opacity="1"/><line x1="99.28" y1="1279.97" x2="469.55" y2="1324.71" stroke="#c4c4c4" stroke-width="0.9" opacity="1"/><line x1="107.01" y1="1278.63" x2="476.19" y2="1323.15" stroke="#626262" stroke-width="1.75" opacity="1"/><line x1="107.01" y1="1277.25" x2="476.19" y2="1321.77" stroke="#868686" stroke-width="2.51" opacity="1"/><line x1="107.01" y1="1276.85" x2="476.19" y2="1321.37" stroke="#c4c4c4" stroke-width="0.88" opacity="1"/><line x1="114.36" y1="1275.64" x2="482.51" y2="1319.94" stroke="#626262" stroke-width="1.71" opacity="1"/><line x1="114.36" y1="1274.29" x2="482.51" y2="1318.6" stroke="#868686" stroke-width="2.45" opacity="1"/><line x1="114.36" y1="1273.89" x2="482.51" y2="1318.2" stroke="#c4c4c4" stroke-width="0.86" opacity="1"/><line x1="121.36" y1="1272.78" x2="488.54" y2="1316.89" stroke="#626262" stroke-width="1.67" opacity="1"/><line x1="121.36" y1="1271.47" x2="488.54" y2="1315.57" stroke="#868686" stroke-width="2.39" opacity="1"/><line x1="121.36" y1="1271.07" x2="488.54" y2="1315.17" stroke="#c4c4c4" stroke-width="0.84" opacity="1"/><line x1="128.04" y1="1270.06" x2="494.28" y2="1313.97" stroke="#626262" stroke-width="1.64" opacity="1"/><line x1="128.04" y1="1268.78" x2="494.28" y2="1312.69" stroke="#868686" stroke-width="2.34" opacity="1"/><line x1="128.04" y1="1268.38" x2="494.28" y2="1312.29" stroke="#c4c4c4" stroke-width="0.82" opacity="1"/><line x1="134.41" y1="1267.46" x2="499.76" y2="1311.19" stroke="#626262" stroke-width="1.6" opacity="1"/><line x1="134.41" y1="1266.21" x2="499.76" y2="1309.93" stroke="#868686" stroke-width="2.29" opacity="1"/><line x1="134.41" y1="1265.81" x2="499.76" y2="1309.53" stroke="#c4c4c4" stroke-width="0.8" opacity="1"/>
<line x1="114.95" y1="1324.26" x2="234.36" y2="1274.96" stroke="#939393" stroke-width="2.8"/>
<line x1="210.3" y1="1336.03" x2="322.75" y2="1285.53" stroke="#939393" stroke-width="2.8"/>
<line x1="305.65" y1="1347.79" x2="411.14" y2="1296.09" stroke="#939393" stroke-width="2.8"/>
<path d="M133.13 823.5 L148.33 823.5 L150.73 831 L130.73 831 Z" fill="url(#gCollar)"/>
<path d="M133.96 1053.5 L149.16 1053.5 L151.56 1061 L131.56 1061 Z" fill="url(#gCollar)"/>
<path d="M134.69 1257 L149.89 1257 L152.29 1264.5 L132.29 1264.5 Z" fill="url(#gCollar)"/>
<polygon points="13.6,110.7 24,118 129,143.6 148,141.3 500,116.6 518,110.9 415,76.4 393,78" fill="#808080" opacity="1"/>
<line x1="18.95" y1="112.6" x2="408.5" y2="79.31" stroke="#747474" stroke-width="0.69" opacity="1"/><line x1="18.95" y1="112.06" x2="408.5" y2="78.77" stroke="#9c9c9c" stroke-width="0.99" opacity="1"/><line x1="24.38" y1="113.98" x2="413.06" y2="80.89" stroke="#747474" stroke-width="0.68" opacity="1"/><line x1="24.38" y1="113.44" x2="413.06" y2="80.35" stroke="#9c9c9c" stroke-width="0.97" opacity="1"/><line x1="29.89" y1="115.37" x2="417.7" y2="82.5" stroke="#747474" stroke-width="0.67" opacity="1"/><line x1="29.89" y1="114.84" x2="417.7" y2="81.97" stroke="#9c9c9c" stroke-width="0.96" opacity="1"/><line x1="35.49" y1="116.79" x2="422.4" y2="84.13" stroke="#747474" stroke-width="0.66" opacity="1"/><line x1="35.49" y1="116.26" x2="422.4" y2="83.61" stroke="#9c9c9c" stroke-width="0.95" opacity="1"/><line x1="41.18" y1="118.22" x2="427.18" y2="85.78" stroke="#747474" stroke-width="0.65" opacity="1"/><line x1="41.18" y1="117.71" x2="427.18" y2="85.27" stroke="#9c9c9c" stroke-width="0.93" opacity="1"/><line x1="46.95" y1="119.68" x2="432.04" y2="87.47" stroke="#747474" stroke-width="0.64" opacity="1"/><line x1="46.95" y1="119.18" x2="432.04" y2="86.96" stroke="#9c9c9c" stroke-width="0.92" opacity="1"/><line x1="52.82" y1="121.17" x2="436.97" y2="89.17" stroke="#747474" stroke-width="0.63" opacity="1"/><line x1="52.82" y1="120.67" x2="436.97" y2="88.68" stroke="#9c9c9c" stroke-width="0.91" opacity="1"/><line x1="58.78" y1="122.67" x2="441.98" y2="90.91" stroke="#747474" stroke-width="0.62" opacity="1"/><line x1="58.78" y1="122.18" x2="441.98" y2="90.42" stroke="#9c9c9c" stroke-width="0.89" opacity="1"/><line x1="64.83" y1="124.21" x2="447.07" y2="92.67" stroke="#747474" stroke-width="0.61" opacity="1"/><line x1="64.83" y1="123.72" x2="447.07" y2="92.19" stroke="#9c9c9c" stroke-width="0.88" opacity="1"/><line x1="70.99" y1="125.76" x2="452.24" y2="94.47" stroke="#747474" stroke-width="0.6" opacity="1"/><line x1="70.99" y1="125.29" x2="452.24" y2="93.99" stroke="#9c9c9c" stroke-width="0.86" opacity="1"/><line x1="77.24" y1="127.34" x2="457.5" y2="96.29" stroke="#747474" stroke-width="0.59" opacity="1"/><line x1="77.24" y1="126.88" x2="457.5" y2="95.82" stroke="#9c9c9c" stroke-width="0.85" opacity="1"/><line x1="83.6" y1="128.95" x2="462.85" y2="98.14" stroke="#747474" stroke-width="0.58" opacity="1"/><line x1="83.6" y1="128.49" x2="462.85" y2="97.68" stroke="#9c9c9c" stroke-width="0.83" opacity="1"/><line x1="90.06" y1="130.59" x2="468.28" y2="100.02" stroke="#747474" stroke-width="0.57" opacity="1"/><line x1="90.06" y1="130.14" x2="468.28" y2="99.58" stroke="#9c9c9c" stroke-width="0.82" opacity="1"/><line x1="96.63" y1="132.25" x2="473.8" y2="101.94" stroke="#747474" stroke-width="0.56" opacity="1"/><line x1="96.63" y1="131.81" x2="473.8" y2="101.5" stroke="#9c9c9c" stroke-width="0.8" opacity="1"/><line x1="103.32" y1="133.94" x2="479.42" y2="103.89" stroke="#747474" stroke-width="0.55" opacity="1"/><line x1="103.32" y1="133.51" x2="479.42" y2="103.45" stroke="#9c9c9c" stroke-width="0.78" opacity="1"/><line x1="110.11" y1="135.66" x2="485.14" y2="105.87" stroke="#747474" stroke-width="0.54" opacity="1"/><line x1="110.11" y1="135.23" x2="485.14" y2="105.44" stroke="#9c9c9c" stroke-width="0.77" opacity="1"/><line x1="117.03" y1="137.4" x2="490.95" y2="107.88" stroke="#747474" stroke-width="0.53" opacity="1"/><line x1="117.03" y1="136.99" x2="490.95" y2="107.47" stroke="#9c9c9c" stroke-width="0.75" opacity="1"/><line x1="124.06" y1="139.18" x2="496.86" y2="109.93" stroke="#747474" stroke-width="0.51" opacity="1"/><line x1="124.06" y1="138.78" x2="496.86" y2="109.52" stroke="#9c9c9c" stroke-width="0.73" opacity="1"/><line x1="131.22" y1="140.99" x2="502.88" y2="112.01" stroke="#747474" stroke-width="0.5" opacity="1"/><line x1="131.22" y1="140.6" x2="502.88" y2="111.62" stroke="#9c9c9c" stroke-width="0.72" opacity="1"/>
<line x1="111.2" y1="102.33" x2="233.9" y2="135.06" stroke="#c2c2c2" stroke-width="2.2" stroke-dasharray="6 3"/>
<line x1="208.8" y1="93.95" x2="323.75" y2="128.1" stroke="#c2c2c2" stroke-width="2.2" stroke-dasharray="6 3"/>
<line x1="306.4" y1="85.58" x2="413.6" y2="121.14" stroke="#c2c2c2" stroke-width="2.2" stroke-dasharray="6 3"/>
<polyline points="156.98,149.41 165.57,156.48 182.81,139.9 199.93,153.82 217.22,137.47 234.3,151.16 251.63,135.04 268.66,148.49 286.05,132.6 303.02,145.83 320.46,130.17 337.38,143.17 354.88,127.74 371.75,140.5 389.29,125.31 406.11,137.84 423.71,122.88 440.47,135.18 458.12,120.45 474.84,132.51 483.68,125.27" fill="none" stroke="#656565" stroke-width="2" stroke-linejoin="round" stroke-linecap="round"/>
<polyline points="156.78,149.16 165.37,156.23 182.61,139.65 199.73,153.57 217.02,137.22 234.1,150.91 251.43,134.79 268.46,148.24 285.85,132.35 302.82,145.58 320.26,129.92 337.18,142.92 354.68,127.49 371.55,140.25 389.09,125.06 405.91,137.59 423.51,122.63 440.27,134.93 457.92,120.2 474.64,132.26 483.48,125.02" fill="none" stroke="#a8a8a8" stroke-width="0.8" stroke-linejoin="round" stroke-linecap="round"/>
<line x1="148" y1="158.9" x2="499.4" y2="131.5" stroke="#585858" stroke-width="3" stroke-linecap="butt"/>
<line x1="148" y1="158.9" x2="499.4" y2="131.5" stroke="#888888" stroke-width="1.8" stroke-linecap="butt"/>
<line x1="147.97" y1="158.48" x2="499.37" y2="131.08" stroke="#bebebe" stroke-width="0.96" stroke-linecap="butt"/>
<line x1="148" y1="141.3" x2="500" y2="116.6" stroke="#585858" stroke-width="3" stroke-linecap="butt"/>
<line x1="148" y1="141.3" x2="500" y2="116.6" stroke="#888888" stroke-width="1.8" stroke-linecap="butt"/>
<line x1="147.97" y1="140.88" x2="499.97" y2="116.18" stroke="#bebebe" stroke-width="0.96" stroke-linecap="butt"/>
<polyline points="31.82,127.46 36.62,135.26 46.18,124.3 55.82,139.64 65.35,128.96 75.02,144.02 84.51,133.61 94.21,148.4 103.68,138.26 113.41,152.78 118.13,147.85" fill="none" stroke="#656565" stroke-width="2" stroke-linejoin="round" stroke-linecap="round"/>
<polyline points="31.62,127.21 36.42,135.01 45.98,124.05 55.62,139.39 65.15,128.71 74.82,143.77 84.31,133.36 94.01,148.15 103.48,138.01 113.21,152.53 117.93,147.6" fill="none" stroke="#a8a8a8" stroke-width="0.8" stroke-linejoin="round" stroke-linecap="round"/>
<line x1="24" y1="133.3" x2="129.2" y2="157.2" stroke="#585858" stroke-width="3" stroke-linecap="butt"/>
<line x1="24" y1="133.3" x2="129.2" y2="157.2" stroke="#888888" stroke-width="1.8" stroke-linecap="butt"/>
<line x1="24.09" y1="132.89" x2="129.29" y2="156.79" stroke="#bebebe" stroke-width="0.96" stroke-linecap="butt"/>
<line x1="24" y1="118" x2="129" y2="143.6" stroke="#585858" stroke-width="3" stroke-linecap="butt"/>
<line x1="24" y1="118" x2="129" y2="143.6" stroke="#888888" stroke-width="1.8" stroke-linecap="butt"/>
<line x1="24.1" y1="117.59" x2="129.1" y2="143.19" stroke="#bebebe" stroke-width="0.96" stroke-linecap="butt"/>
<rect x="128.9" y="142.7" width="18.8" height="19.3" rx="1.6" fill="url(#gCollar)"/>
<rect x="129.9" y="143.3" width="16.8" height="1" fill="#eee" opacity=".5"/>
<rect x="130.1" y="161.6" width="16.4" height="3.2" rx="1.2" fill="#1c1c1c"/>
<polygon points="14,354.5 24,359 130,372 148,372 499,357.5 516.5,352 414,336 392,339.5" fill="#7f7f7f" opacity="1"/>
<line x1="22.97" y1="356.24" x2="410.51" y2="339.45" stroke="#747474" stroke-width="0.62" opacity="1"/><line x1="22.97" y1="355.76" x2="410.51" y2="338.97" stroke="#9a9a9a" stroke-width="0.88" opacity="1"/><line x1="32.16" y1="357.52" x2="418.22" y2="340.69" stroke="#747474" stroke-width="0.6" opacity="1"/><line x1="32.16" y1="357.04" x2="418.22" y2="340.22" stroke="#9a9a9a" stroke-width="0.86" opacity="1"/><line x1="41.6" y1="358.83" x2="426.13" y2="341.97" stroke="#747474" stroke-width="0.59" opacity="1"/><line x1="41.6" y1="358.36" x2="426.13" y2="341.5" stroke="#9a9a9a" stroke-width="0.84" opacity="1"/><line x1="51.28" y1="360.17" x2="434.24" y2="343.27" stroke="#747474" stroke-width="0.57" opacity="1"/><line x1="51.28" y1="359.72" x2="434.24" y2="342.82" stroke="#9a9a9a" stroke-width="0.82" opacity="1"/><line x1="61.22" y1="361.55" x2="442.57" y2="344.61" stroke="#747474" stroke-width="0.56" opacity="1"/><line x1="61.22" y1="361.11" x2="442.57" y2="344.17" stroke="#9a9a9a" stroke-width="0.8" opacity="1"/><line x1="71.43" y1="362.97" x2="451.13" y2="345.99" stroke="#747474" stroke-width="0.54" opacity="1"/><line x1="71.43" y1="362.54" x2="451.13" y2="345.56" stroke="#9a9a9a" stroke-width="0.78" opacity="1"/><line x1="81.92" y1="364.42" x2="459.92" y2="347.4" stroke="#747474" stroke-width="0.53" opacity="1"/><line x1="81.92" y1="364.01" x2="459.92" y2="346.99" stroke="#9a9a9a" stroke-width="0.75" opacity="1"/><line x1="92.7" y1="365.92" x2="468.95" y2="348.86" stroke="#747474" stroke-width="0.51" opacity="1"/><line x1="92.7" y1="365.52" x2="468.95" y2="348.45" stroke="#9a9a9a" stroke-width="0.73" opacity="1"/><line x1="103.79" y1="367.46" x2="478.24" y2="350.35" stroke="#747474" stroke-width="0.49" opacity="1"/><line x1="103.79" y1="367.07" x2="478.24" y2="349.96" stroke="#9a9a9a" stroke-width="0.71" opacity="1"/><line x1="115.19" y1="369.04" x2="487.8" y2="351.89" stroke="#747474" stroke-width="0.48" opacity="1"/><line x1="115.19" y1="368.67" x2="487.8" y2="351.51" stroke="#9a9a9a" stroke-width="0.68" opacity="1"/><line x1="126.92" y1="370.67" x2="497.63" y2="353.47" stroke="#747474" stroke-width="0.46" opacity="1"/><line x1="126.92" y1="370.31" x2="497.63" y2="353.11" stroke="#9a9a9a" stroke-width="0.66" opacity="1"/>
<line x1="111.25" y1="350.31" x2="233.95" y2="367.56" stroke="#bebebe" stroke-width="1.8" stroke-dasharray="5 3"/>
<line x1="208.5" y1="346.12" x2="323.38" y2="363.38" stroke="#bebebe" stroke-width="1.8" stroke-dasharray="5 3"/>
<line x1="305.75" y1="341.94" x2="412.8" y2="359.19" stroke="#bebebe" stroke-width="1.8" stroke-dasharray="5 3"/>
<polyline points="156.97,379.16 165.55,385.45 182.71,371.48 199.87,384.17 217.03,370.07 234.19,382.89 251.35,368.66 268.51,381.61 285.67,367.25 302.83,380.33 319.99,365.84 337.15,379.05 354.31,364.43 371.47,377.77 388.63,363.02 405.79,376.49 422.95,361.61 440.11,375.21 457.27,360.2 474.43,373.93 483.01,366.36" fill="none" stroke="#656565" stroke-width="2" stroke-linejoin="round" stroke-linecap="round"/>
<polyline points="156.77,378.91 165.35,385.2 182.51,371.23 199.67,383.92 216.83,369.82 233.99,382.64 251.15,368.41 268.31,381.36 285.47,367 302.63,380.08 319.79,365.59 336.95,378.8 354.11,364.18 371.27,377.52 388.43,362.77 405.59,376.24 422.75,361.36 439.91,374.96 457.07,359.95 474.23,373.68 482.81,366.11" fill="none" stroke="#a8a8a8" stroke-width="0.8" stroke-linejoin="round" stroke-linecap="round"/>
<line x1="148" y1="387" x2="499" y2="374" stroke="#585858" stroke-width="3" stroke-linecap="butt"/>
<line x1="148" y1="387" x2="499" y2="374" stroke="#888888" stroke-width="1.8" stroke-linecap="butt"/>
<line x1="147.98" y1="386.58" x2="498.98" y2="373.58" stroke="#bebebe" stroke-width="0.96" stroke-linecap="butt"/>
<line x1="148" y1="372" x2="499" y2="357.5" stroke="#585858" stroke-width="3" stroke-linecap="butt"/>
<line x1="148" y1="372" x2="499" y2="357.5" stroke="#888888" stroke-width="1.8" stroke-linecap="butt"/>
<line x1="147.98" y1="371.58" x2="498.98" y2="357.08" stroke="#bebebe" stroke-width="0.96" stroke-linecap="butt"/>
<polyline points="31.88,367.33 36.72,374.39 46.39,362.62 56.06,376.35 65.74,364.96 75.41,378.31 85.08,367.31 94.75,380.27 104.43,369.65 114.1,382.23 118.94,377.12" fill="none" stroke="#656565" stroke-width="2" stroke-linejoin="round" stroke-linecap="round"/>
<polyline points="31.68,367.08 36.52,374.14 46.19,362.37 55.86,376.1 65.54,364.71 75.21,378.06 84.88,367.06 94.55,380.02 104.23,369.4 113.9,381.98 118.74,376.87" fill="none" stroke="#a8a8a8" stroke-width="0.8" stroke-linejoin="round" stroke-linecap="round"/>
<line x1="24" y1="374" x2="130" y2="384.6" stroke="#585858" stroke-width="3" stroke-linecap="butt"/>
<line x1="24" y1="374" x2="130" y2="384.6" stroke="#888888" stroke-width="1.8" stroke-linecap="butt"/>
<line x1="24.04" y1="373.58" x2="130.04" y2="384.18" stroke="#bebebe" stroke-width="0.96" stroke-linecap="butt"/>
<line x1="24" y1="359" x2="130" y2="372" stroke="#585858" stroke-width="3" stroke-linecap="butt"/>
<line x1="24" y1="359" x2="130" y2="372" stroke="#888888" stroke-width="1.8" stroke-linecap="butt"/>
<line x1="24.05" y1="358.58" x2="130.05" y2="371.58" stroke="#bebebe" stroke-width="0.96" stroke-linecap="butt"/>
<rect x="129.72" y="370" width="18.8" height="19" rx="1.6" fill="url(#gCollar)"/>
<rect x="130.72" y="370.6" width="16.8" height="1" fill="#eee" opacity=".5"/>
<rect x="130.92" y="388.6" width="16.4" height="3.2" rx="1.2" fill="#1c1c1c"/>
<polyline points="150.46,597.73 158.53,590.87 174.68,604.45 190.82,590.69 206.97,604.31 223.11,590.51 239.26,604.17 255.41,590.33 271.55,604.03 287.7,590.15 303.84,603.89 319.99,589.96 336.14,603.75 352.28,589.78 368.43,603.61 384.57,589.6 400.72,603.47 416.87,589.42 433.01,603.33 449.16,589.24 465.3,603.19 481.45,589.06 489.52,596.05" fill="none" stroke="#606060" stroke-width="1.9" stroke-linejoin="round" stroke-linecap="round"/>
<polyline points="150.26,597.48 158.33,590.62 174.48,604.2 190.62,590.44 206.77,604.06 222.91,590.26 239.06,603.92 255.21,590.08 271.35,603.78 287.5,589.9 303.64,603.64 319.79,589.71 335.94,603.5 352.08,589.53 368.23,603.36 384.37,589.35 400.52,603.22 416.67,589.17 432.81,603.08 448.96,588.99 465.1,602.94 481.25,588.81 489.32,595.8" fill="none" stroke="#a0a0a0" stroke-width="0.76" stroke-linejoin="round" stroke-linecap="round"/>
<line x1="148" y1="605.5" x2="499" y2="604" stroke="#545454" stroke-width="2.8" stroke-linecap="butt"/>
<line x1="148" y1="605.5" x2="499" y2="604" stroke="#818181" stroke-width="1.6" stroke-linecap="butt"/>
<line x1="148" y1="605.11" x2="499" y2="603.61" stroke="#b4b4b4" stroke-width="0.9" stroke-linecap="butt"/>
<line x1="148" y1="590" x2="499" y2="588" stroke="#545454" stroke-width="2.8" stroke-linecap="butt"/>
<line x1="148" y1="590" x2="499" y2="588" stroke="#818181" stroke-width="1.6" stroke-linecap="butt"/>
<line x1="148" y1="589.61" x2="499" y2="587.61" stroke="#b4b4b4" stroke-width="0.9" stroke-linecap="butt"/>
<rect x="130.5" y="583.6" width="18.8" height="26.4" rx="1.6" fill="url(#gCollar)"/>
<rect x="131.5" y="584.2" width="16.8" height="1" fill="#eee" opacity=".5"/>
<rect x="131.7" y="609.6" width="16.4" height="3.2" rx="1.2" fill="#1c1c1c"/>
<polyline points="30.36,597.98 34.6,604.99 43.08,590.95 51.56,604.92 60.04,590.95 68.52,604.84 77,590.95 85.48,604.77 93.96,590.94 102.44,604.69 110.92,590.94 119.4,604.62 123.64,597.77" fill="none" stroke="#606060" stroke-width="1.9" stroke-linejoin="round" stroke-linecap="round"/>
<polyline points="30.16,597.73 34.4,604.74 42.88,590.7 51.36,604.67 59.84,590.7 68.32,604.59 76.8,590.7 85.28,604.52 93.76,590.69 102.24,604.44 110.72,590.69 119.2,604.37 123.44,597.52" fill="none" stroke="#a0a0a0" stroke-width="0.76" stroke-linejoin="round" stroke-linecap="round"/>
<line x1="24" y1="606" x2="130" y2="605.5" stroke="#545454" stroke-width="2.8" stroke-linecap="butt"/>
<line x1="24" y1="606" x2="130" y2="605.5" stroke="#818181" stroke-width="1.6" stroke-linecap="butt"/>
<line x1="24" y1="605.61" x2="130" y2="605.11" stroke="#b4b4b4" stroke-width="0.9" stroke-linecap="butt"/>
<line x1="24" y1="590" x2="130" y2="590" stroke="#545454" stroke-width="2.8" stroke-linecap="butt"/>
<line x1="24" y1="590" x2="130" y2="590" stroke="#818181" stroke-width="1.6" stroke-linecap="butt"/>
<line x1="24" y1="589.61" x2="130" y2="589.61" stroke="#b4b4b4" stroke-width="0.9" stroke-linecap="butt"/>
<polygon points="26,703 131,691.5 149,692.6 497,708.6 497,715.6 413,730 392,731.6 26,715.4" fill="#b4b3b3"/>
<polyline points="47.96,728.21 67.18,717.22 86.39,730.33 105.61,718.92 124.82,732.45 144.03,720.62 163.25,734.58 182.47,722.33 201.68,736.7 220.89,724.03 240.11,738.82 259.32,725.73 278.54,740.94 297.76,727.43 316.97,743.06 336.19,729.13 355.4,745.18 365.01,738.01" fill="none" stroke="#b7b6b6" stroke-width="2.1" stroke-linejoin="round"/>
<line x1="26" y1="727.2" x2="392" y2="747.4" stroke="#b5b4b4" stroke-width="3.2"/>
<polyline points="490.58,729.14 482.51,718.08 475.04,732.25 466.97,720.75 459.5,735.36 451.43,723.41 443.96,738.47 435.89,726.08 428.42,741.58 424.38,735.16" fill="none" stroke="#b7b6b6" stroke-width="2.1" stroke-linejoin="round"/>
<line x1="413.3" y1="744.6" x2="497.3" y2="727.8" stroke="#b5b4b4" stroke-width="3"/>
<line x1="26" y1="716" x2="131" y2="704" stroke="#b9b8b8" stroke-width="2"/>
<g transform="matrix(1 0 0.00409 1 12.61 0)">
<rect x="-8" y="104.5" width="16" height="1271.5" fill="url(#gPole)"/>
<rect x="-8" y="146.3" width="16" height="1.2" fill="#4f4f4f" opacity=".75"/><rect x="-7" y="147.6" width="14" height="1" fill="#f2f2f2" opacity=".4"/><rect x="-8" y="168.05" width="16" height="1.2" fill="#4f4f4f" opacity=".75"/><rect x="-7" y="169.35" width="14" height="1" fill="#f2f2f2" opacity=".4"/><rect x="-8" y="189.8" width="16" height="1.2" fill="#4f4f4f" opacity=".75"/><rect x="-7" y="191.1" width="14" height="1" fill="#f2f2f2" opacity=".4"/><rect x="-8" y="211.55" width="16" height="1.2" fill="#4f4f4f" opacity=".75"/><rect x="-7" y="212.85" width="14" height="1" fill="#f2f2f2" opacity=".4"/><rect x="-8" y="215.55" width="16" height="1.2" fill="#4f4f4f" opacity=".75"/><rect x="-7" y="216.85" width="14" height="1" fill="#f2f2f2" opacity=".38"/><rect x="-8" y="233.3" width="16" height="1.2" fill="#4f4f4f" opacity=".75"/><rect x="-7" y="234.6" width="14" height="1" fill="#f2f2f2" opacity=".4"/><rect x="-8" y="255.05" width="16" height="1.2" fill="#4f4f4f" opacity=".75"/><rect x="-7" y="256.35" width="14" height="1" fill="#f2f2f2" opacity=".4"/><rect x="-8" y="276.8" width="16" height="1.2" fill="#4f4f4f" opacity=".75"/><rect x="-7" y="278.1" width="14" height="1" fill="#f2f2f2" opacity=".4"/><rect x="-8" y="298.55" width="16" height="1.2" fill="#4f4f4f" opacity=".75"/><rect x="-7" y="299.85" width="14" height="1" fill="#f2f2f2" opacity=".4"/><rect x="-8" y="320.3" width="16" height="1.2" fill="#4f4f4f" opacity=".75"/><rect x="-7" y="321.6" width="14" height="1" fill="#f2f2f2" opacity=".4"/><rect x="-8" y="324.3" width="16" height="1.2" fill="#4f4f4f" opacity=".75"/><rect x="-7" y="325.6" width="14" height="1" fill="#f2f2f2" opacity=".38"/><rect x="-8" y="342.05" width="16" height="1.2" fill="#4f4f4f" opacity=".75"/><rect x="-7" y="343.35" width="14" height="1" fill="#f2f2f2" opacity=".4"/><rect x="-8" y="363.8" width="16" height="1.2" fill="#4f4f4f" opacity=".75"/><rect x="-7" y="365.1" width="14" height="1" fill="#f2f2f2" opacity=".4"/><rect x="-8" y="385.55" width="16" height="1.2" fill="#4f4f4f" opacity=".75"/><rect x="-7" y="386.85" width="14" height="1" fill="#f2f2f2" opacity=".4"/><rect x="-8" y="407.3" width="16" height="1.2" fill="#4f4f4f" opacity=".75"/><rect x="-7" y="408.6" width="14" height="1" fill="#f2f2f2" opacity=".4"/><rect x="-8" y="429.05" width="16" height="1.2" fill="#4f4f4f" opacity=".75"/><rect x="-7" y="430.35" width="14" height="1" fill="#f2f2f2" opacity=".4"/><rect x="-8" y="433.05" width="16" height="1.2" fill="#4f4f4f" opacity=".75"/><rect x="-7" y="434.35" width="14" height="1" fill="#f2f2f2" opacity=".38"/><rect x="-8" y="450.8" width="16" height="1.2" fill="#4f4f4f" opacity=".75"/><rect x="-7" y="452.1" width="14" height="1" fill="#f2f2f2" opacity=".4"/><rect x="-8" y="472.55" width="16" height="1.2" fill="#4f4f4f" opacity=".75"/><rect x="-7" y="473.85" width="14" height="1" fill="#f2f2f2" opacity=".4"/><rect x="-8" y="494.3" width="16" height="1.2" fill="#4f4f4f" opacity=".75"/><rect x="-7" y="495.6" width="14" height="1" fill="#f2f2f2" opacity=".4"/><rect x="-8" y="516.05" width="16" height="1.2" fill="#4f4f4f" opacity=".75"/><rect x="-7" y="517.35" width="14" height="1" fill="#f2f2f2" opacity=".4"/><rect x="-8" y="537.8" width="16" height="1.2" fill="#4f4f4f" opacity=".75"/><rect x="-7" y="539.1" width="14" height="1" fill="#f2f2f2" opacity=".4"/><rect x="-8" y="541.8" width="16" height="1.2" fill="#4f4f4f" opacity=".75"/><rect x="-7" y="543.1" width="14" height="1" fill="#f2f2f2" opacity=".38"/><rect x="-8" y="559.55" width="16" height="1.2" fill="#4f4f4f" opacity=".75"/><rect x="-7" y="560.85" width="14" height="1" fill="#f2f2f2" opacity=".4"/><rect x="-8" y="581.3" width="16" height="1.2" fill="#4f4f4f" opacity=".75"/><rect x="-7" y="582.6" width="14" height="1" fill="#f2f2f2" opacity=".4"/><rect x="-8" y="603.05" width="16" height="1.2" fill="#4f4f4f" opacity=".75"/><rect x="-7" y="604.35" width="14" height="1" fill="#f2f2f2" opacity=".4"/><rect x="-8" y="624.8" width="16" height="1.2" fill="#4f4f4f" opacity=".75"/><rect x="-7" y="626.1" width="14" height="1" fill="#f2f2f2" opacity=".4"/><rect x="-8" y="646.55" width="16" height="1.2" fill="#4f4f4f" opacity=".75"/><rect x="-7" y="647.85" width="14" height="1" fill="#f2f2f2" opacity=".4"/><rect x="-8" y="650.55" width="16" height="1.2" fill="#4f4f4f" opacity=".75"/><rect x="-7" y="651.85" width="14" height="1" fill="#f2f2f2" opacity=".38"/><rect x="-8" y="668.3" width="16" height="1.2" fill="#4f4f4f" opacity=".75"/><rect x="-7" y="669.6" width="14" height="1" fill="#f2f2f2" opacity=".4"/><rect x="-8" y="690.05" width="16" height="1.2" fill="#4f4f4f" opacity=".75"/><rect x="-7" y="691.35" width="14" height="1" fill="#f2f2f2" opacity=".4"/><rect x="-8" y="711.8" width="16" height="1.2" fill="#4f4f4f" opacity=".75"/><rect x="-7" y="713.1" width="14" height="1" fill="#f2f2f2" opacity=".4"/><rect x="-8" y="733.55" width="16" height="1.2" fill="#4f4f4f" opacity=".75"/><rect x="-7" y="734.85" width="14" height="1" fill="#f2f2f2" opacity=".4"/><rect x="-8" y="755.3" width="16" height="1.2" fill="#4f4f4f" opacity=".75"/><rect x="-7" y="756.6" width="14" height="1" fill="#f2f2f2" opacity=".4"/><rect x="-8" y="759.3" width="16" height="1.2" fill="#4f4f4f" opacity=".75"/><rect x="-7" y="760.6" width="14" height="1" fill="#f2f2f2" opacity=".38"/><rect x="-8" y="777.05" width="16" height="1.2" fill="#4f4f4f" opacity=".75"/><rect x="-7" y="778.35" width="14" height="1" fill="#f2f2f2" opacity=".4"/><rect x="-8" y="798.8" width="16" height="1.2" fill="#4f4f4f" opacity=".75"/><rect x="-7" y="800.1" width="14" height="1" fill="#f2f2f2" opacity=".4"/><rect x="-8" y="820.55" width="16" height="1.2" fill="#4f4f4f" opacity=".75"/><rect x="-7" y="821.85" width="14" height="1" fill="#f2f2f2" opacity=".4"/><rect x="-8" y="842.3" width="16" height="1.2" fill="#4f4f4f" opacity=".75"/><rect x="-7" y="843.6" width="14" height="1" fill="#f2f2f2" opacity=".4"/><rect x="-8" y="864.05" width="16" height="1.2" fill="#4f4f4f" opacity=".75"/><rect x="-7" y="865.35" width="14" height="1" fill="#f2f2f2" opacity=".4"/><rect x="-8" y="868.05" width="16" height="1.2" fill="#4f4f4f" opacity=".75"/><rect x="-7" y="869.35" width="14" height="1" fill="#f2f2f2" opacity=".38"/><rect x="-8" y="885.8" width="16" height="1.2" fill="#4f4f4f" opacity=".75"/><rect x="-7" y="887.1" width="14" height="1" fill="#f2f2f2" opacity=".4"/><rect x="-8" y="907.55" width="16" height="1.2" fill="#4f4f4f" opacity=".75"/><rect x="-7" y="908.85" width="14" height="1" fill="#f2f2f2" opacity=".4"/><rect x="-8" y="929.3" width="16" height="1.2" fill="#4f4f4f" opacity=".75"/><rect x="-7" y="930.6" width="14" height="1" fill="#f2f2f2" opacity=".4"/><rect x="-8" y="951.05" width="16" height="1.2" fill="#4f4f4f" opacity=".75"/><rect x="-7" y="952.35" width="14" height="1" fill="#f2f2f2" opacity=".4"/><rect x="-8" y="972.8" width="16" height="1.2" fill="#4f4f4f" opacity=".75"/><rect x="-7" y="974.1" width="14" height="1" fill="#f2f2f2" opacity=".4"/><rect x="-8" y="976.8" width="16" height="1.2" fill="#4f4f4f" opacity=".75"/><rect x="-7" y="978.1" width="14" height="1" fill="#f2f2f2" opacity=".38"/><rect x="-8" y="994.55" width="16" height="1.2" fill="#4f4f4f" opacity=".75"/><rect x="-7" y="995.85" width="14" height="1" fill="#f2f2f2" opacity=".4"/><rect x="-8" y="1016.3" width="16" height="1.2" fill="#4f4f4f" opacity=".75"/><rect x="-7" y="1017.6" width="14" height="1" fill="#f2f2f2" opacity=".4"/><rect x="-8" y="1038.05" width="16" height="1.2" fill="#4f4f4f" opacity=".75"/><rect x="-7" y="1039.35" width="14" height="1" fill="#f2f2f2" opacity=".4"/><rect x="-8" y="1059.8" width="16" height="1.2" fill="#4f4f4f" opacity=".75"/><rect x="-7" y="1061.1" width="14" height="1" fill="#f2f2f2" opacity=".4"/><rect x="-8" y="1081.55" width="16" height="1.2" fill="#4f4f4f" opacity=".75"/><rect x="-7" y="1082.85" width="14" height="1" fill="#f2f2f2" opacity=".4"/><rect x="-8" y="1085.55" width="16" height="1.2" fill="#4f4f4f" opacity=".75"/><rect x="-7" y="1086.85" width="14" height="1" fill="#f2f2f2" opacity=".38"/><rect x="-8" y="1103.3" width="16" height="1.2" fill="#4f4f4f" opacity=".75"/><rect x="-7" y="1104.6" width="14" height="1" fill="#f2f2f2" opacity=".4"/><rect x="-8" y="1125.05" width="16" height="1.2" fill="#4f4f4f" opacity=".75"/><rect x="-7" y="1126.35" width="14" height="1" fill="#f2f2f2" opacity=".4"/><rect x="-8" y="1146.8" width="16" height="1.2" fill="#4f4f4f" opacity=".75"/><rect x="-7" y="1148.1" width="14" height="1" fill="#f2f2f2" opacity=".4"/><rect x="-8" y="1168.55" width="16" height="1.2" fill="#4f4f4f" opacity=".75"/><rect x="-7" y="1169.85" width="14" height="1" fill="#f2f2f2" opacity=".4"/><rect x="-8" y="1190.3" width="16" height="1.2" fill="#4f4f4f" opacity=".75"/><rect x="-7" y="1191.6" width="14" height="1" fill="#f2f2f2" opacity=".4"/><rect x="-8" y="1194.3" width="16" height="1.2" fill="#4f4f4f" opacity=".75"/><rect x="-7" y="1195.6" width="14" height="1" fill="#f2f2f2" opacity=".38"/><rect x="-8" y="1212.05" width="16" height="1.2" fill="#4f4f4f" opacity=".75"/><rect x="-7" y="1213.35" width="14" height="1" fill="#f2f2f2" opacity=".4"/><rect x="-8" y="1233.8" width="16" height="1.2" fill="#4f4f4f" opacity=".75"/><rect x="-7" y="1235.1" width="14" height="1" fill="#f2f2f2" opacity=".4"/><rect x="-8" y="1255.55" width="16" height="1.2" fill="#4f4f4f" opacity=".75"/><rect x="-7" y="1256.85" width="14" height="1" fill="#f2f2f2" opacity=".4"/><rect x="-8" y="1277.3" width="16" height="1.2" fill="#4f4f4f" opacity=".75"/><rect x="-7" y="1278.6" width="14" height="1" fill="#f2f2f2" opacity=".4"/><rect x="-8" y="1299.05" width="16" height="1.2" fill="#4f4f4f" opacity=".75"/><rect x="-7" y="1300.35" width="14" height="1" fill="#f2f2f2" opacity=".4"/><rect x="-8" y="1303.05" width="16" height="1.2" fill="#4f4f4f" opacity=".75"/><rect x="-7" y="1304.35" width="14" height="1" fill="#f2f2f2" opacity=".38"/><rect x="-8" y="1320.8" width="16" height="1.2" fill="#4f4f4f" opacity=".75"/><rect x="-7" y="1322.1" width="14" height="1" fill="#f2f2f2" opacity=".4"/><rect x="-8" y="1342.55" width="16" height="1.2" fill="#4f4f4f" opacity=".75"/><rect x="-7" y="1343.85" width="14" height="1" fill="#f2f2f2" opacity=".4"/><rect x="-8" y="1364.3" width="16" height="1.2" fill="#4f4f4f" opacity=".75"/><rect x="-7" y="1365.6" width="14" height="1" fill="#f2f2f2" opacity=".4"/>
</g>
<g transform="matrix(1 0 -0.00305 1 510.12 0)">
<rect x="-7.6" y="104.5" width="15.2" height="1270.5" fill="url(#gPole)"/>
<rect x="-7.6" y="149.4" width="15.2" height="1.2" fill="#4f4f4f" opacity=".75"/><rect x="-6.6" y="150.7" width="13.2" height="1" fill="#f2f2f2" opacity=".4"/><rect x="-7.6" y="171.15" width="15.2" height="1.2" fill="#4f4f4f" opacity=".75"/><rect x="-6.6" y="172.45" width="13.2" height="1" fill="#f2f2f2" opacity=".4"/><rect x="-7.6" y="192.9" width="15.2" height="1.2" fill="#4f4f4f" opacity=".75"/><rect x="-6.6" y="194.2" width="13.2" height="1" fill="#f2f2f2" opacity=".4"/><rect x="-7.6" y="196.9" width="15.2" height="1.2" fill="#4f4f4f" opacity=".75"/><rect x="-6.6" y="198.2" width="13.2" height="1" fill="#f2f2f2" opacity=".38"/><rect x="-7.6" y="214.65" width="15.2" height="1.2" fill="#4f4f4f" opacity=".75"/><rect x="-6.6" y="215.95" width="13.2" height="1" fill="#f2f2f2" opacity=".4"/><rect x="-7.6" y="236.4" width="15.2" height="1.2" fill="#4f4f4f" opacity=".75"/><rect x="-6.6" y="237.7" width="13.2" height="1" fill="#f2f2f2" opacity=".4"/><rect x="-7.6" y="258.15" width="15.2" height="1.2" fill="#4f4f4f" opacity=".75"/><rect x="-6.6" y="259.45" width="13.2" height="1" fill="#f2f2f2" opacity=".4"/><rect x="-7.6" y="279.9" width="15.2" height="1.2" fill="#4f4f4f" opacity=".75"/><rect x="-6.6" y="281.2" width="13.2" height="1" fill="#f2f2f2" opacity=".4"/><rect x="-7.6" y="301.65" width="15.2" height="1.2" fill="#4f4f4f" opacity=".75"/><rect x="-6.6" y="302.95" width="13.2" height="1" fill="#f2f2f2" opacity=".4"/><rect x="-7.6" y="305.65" width="15.2" height="1.2" fill="#4f4f4f" opacity=".75"/><rect x="-6.6" y="306.95" width="13.2" height="1" fill="#f2f2f2" opacity=".38"/><rect x="-7.6" y="323.4" width="15.2" height="1.2" fill="#4f4f4f" opacity=".75"/><rect x="-6.6" y="324.7" width="13.2" height="1" fill="#f2f2f2" opacity=".4"/><rect x="-7.6" y="345.15" width="15.2" height="1.2" fill="#4f4f4f" opacity=".75"/><rect x="-6.6" y="346.45" width="13.2" height="1" fill="#f2f2f2" opacity=".4"/><rect x="-7.6" y="366.9" width="15.2" height="1.2" fill="#4f4f4f" opacity=".75"/><rect x="-6.6" y="368.2" width="13.2" height="1" fill="#f2f2f2" opacity=".4"/><rect x="-7.6" y="388.65" width="15.2" height="1.2" fill="#4f4f4f" opacity=".75"/><rect x="-6.6" y="389.95" width="13.2" height="1" fill="#f2f2f2" opacity=".4"/><rect x="-7.6" y="410.4" width="15.2" height="1.2" fill="#4f4f4f" opacity=".75"/><rect x="-6.6" y="411.7" width="13.2" height="1" fill="#f2f2f2" opacity=".4"/><rect x="-7.6" y="414.4" width="15.2" height="1.2" fill="#4f4f4f" opacity=".75"/><rect x="-6.6" y="415.7" width="13.2" height="1" fill="#f2f2f2" opacity=".38"/><rect x="-7.6" y="432.15" width="15.2" height="1.2" fill="#4f4f4f" opacity=".75"/><rect x="-6.6" y="433.45" width="13.2" height="1" fill="#f2f2f2" opacity=".4"/><rect x="-7.6" y="453.9" width="15.2" height="1.2" fill="#4f4f4f" opacity=".75"/><rect x="-6.6" y="455.2" width="13.2" height="1" fill="#f2f2f2" opacity=".4"/><rect x="-7.6" y="475.65" width="15.2" height="1.2" fill="#4f4f4f" opacity=".75"/><rect x="-6.6" y="476.95" width="13.2" height="1" fill="#f2f2f2" opacity=".4"/><rect x="-7.6" y="497.4" width="15.2" height="1.2" fill="#4f4f4f" opacity=".75"/><rect x="-6.6" y="498.7" width="13.2" height="1" fill="#f2f2f2" opacity=".4"/><rect x="-7.6" y="519.15" width="15.2" height="1.2" fill="#4f4f4f" opacity=".75"/><rect x="-6.6" y="520.45" width="13.2" height="1" fill="#f2f2f2" opacity=".4"/><rect x="-7.6" y="523.15" width="15.2" height="1.2" fill="#4f4f4f" opacity=".75"/><rect x="-6.6" y="524.45" width="13.2" height="1" fill="#f2f2f2" opacity=".38"/><rect x="-7.6" y="540.9" width="15.2" height="1.2" fill="#4f4f4f" opacity=".75"/><rect x="-6.6" y="542.2" width="13.2" height="1" fill="#f2f2f2" opacity=".4"/><rect x="-7.6" y="562.65" width="15.2" height="1.2" fill="#4f4f4f" opacity=".75"/><rect x="-6.6" y="563.95" width="13.2" height="1" fill="#f2f2f2" opacity=".4"/><rect x="-7.6" y="584.4" width="15.2" height="1.2" fill="#4f4f4f" opacity=".75"/><rect x="-6.6" y="585.7" width="13.2" height="1" fill="#f2f2f2" opacity=".4"/><rect x="-7.6" y="606.15" width="15.2" height="1.2" fill="#4f4f4f" opacity=".75"/><rect x="-6.6" y="607.45" width="13.2" height="1" fill="#f2f2f2" opacity=".4"/><rect x="-7.6" y="627.9" width="15.2" height="1.2" fill="#4f4f4f" opacity=".75"/><rect x="-6.6" y="629.2" width="13.2" height="1" fill="#f2f2f2" opacity=".4"/><rect x="-7.6" y="631.9" width="15.2" height="1.2" fill="#4f4f4f" opacity=".75"/><rect x="-6.6" y="633.2" width="13.2" height="1" fill="#f2f2f2" opacity=".38"/><rect x="-7.6" y="649.65" width="15.2" height="1.2" fill="#4f4f4f" opacity=".75"/><rect x="-6.6" y="650.95" width="13.2" height="1" fill="#f2f2f2" opacity=".4"/><rect x="-7.6" y="671.4" width="15.2" height="1.2" fill="#4f4f4f" opacity=".75"/><rect x="-6.6" y="672.7" width="13.2" height="1" fill="#f2f2f2" opacity=".4"/><rect x="-7.6" y="693.15" width="15.2" height="1.2" fill="#4f4f4f" opacity=".75"/><rect x="-6.6" y="694.45" width="13.2" height="1" fill="#f2f2f2" opacity=".4"/><rect x="-7.6" y="714.9" width="15.2" height="1.2" fill="#4f4f4f" opacity=".75"/><rect x="-6.6" y="716.2" width="13.2" height="1" fill="#f2f2f2" opacity=".4"/><rect x="-7.6" y="736.65" width="15.2" height="1.2" fill="#4f4f4f" opacity=".75"/><rect x="-6.6" y="737.95" width="13.2" height="1" fill="#f2f2f2" opacity=".4"/><rect x="-7.6" y="740.65" width="15.2" height="1.2" fill="#4f4f4f" opacity=".75"/><rect x="-6.6" y="741.95" width="13.2" height="1" fill="#f2f2f2" opacity=".38"/><rect x="-7.6" y="758.4" width="15.2" height="1.2" fill="#4f4f4f" opacity=".75"/><rect x="-6.6" y="759.7" width="13.2" height="1" fill="#f2f2f2" opacity=".4"/><rect x="-7.6" y="780.15" width="15.2" height="1.2" fill="#4f4f4f" opacity=".75"/><rect x="-6.6" y="781.45" width="13.2" height="1" fill="#f2f2f2" opacity=".4"/><rect x="-7.6" y="801.9" width="15.2" height="1.2" fill="#4f4f4f" opacity=".75"/><rect x="-6.6" y="803.2" width="13.2" height="1" fill="#f2f2f2" opacity=".4"/><rect x="-7.6" y="823.65" width="15.2" height="1.2" fill="#4f4f4f" opacity=".75"/><rect x="-6.6" y="824.95" width="13.2" height="1" fill="#f2f2f2" opacity=".4"/><rect x="-7.6" y="845.4" width="15.2" height="1.2" fill="#4f4f4f" opacity=".75"/><rect x="-6.6" y="846.7" width="13.2" height="1" fill="#f2f2f2" opacity=".4"/><rect x="-7.6" y="849.4" width="15.2" height="1.2" fill="#4f4f4f" opacity=".75"/><rect x="-6.6" y="850.7" width="13.2" height="1" fill="#f2f2f2" opacity=".38"/><rect x="-7.6" y="867.15" width="15.2" height="1.2" fill="#4f4f4f" opacity=".75"/><rect x="-6.6" y="868.45" width="13.2" height="1" fill="#f2f2f2" opacity=".4"/><rect x="-7.6" y="888.9" width="15.2" height="1.2" fill="#4f4f4f" opacity=".75"/><rect x="-6.6" y="890.2" width="13.2" height="1" fill="#f2f2f2" opacity=".4"/><rect x="-7.6" y="910.65" width="15.2" height="1.2" fill="#4f4f4f" opacity=".75"/><rect x="-6.6" y="911.95" width="13.2" height="1" fill="#f2f2f2" opacity=".4"/><rect x="-7.6" y="932.4" width="15.2" height="1.2" fill="#4f4f4f" opacity=".75"/><rect x="-6.6" y="933.7" width="13.2" height="1" fill="#f2f2f2" opacity=".4"/><rect x="-7.6" y="954.15" width="15.2" height="1.2" fill="#4f4f4f" opacity=".75"/><rect x="-6.6" y="955.45" width="13.2" height="1" fill="#f2f2f2" opacity=".4"/><rect x="-7.6" y="958.15" width="15.2" height="1.2" fill="#4f4f4f" opacity=".75"/><rect x="-6.6" y="959.45" width="13.2" height="1" fill="#f2f2f2" opacity=".38"/><rect x="-7.6" y="975.9" width="15.2" height="1.2" fill="#4f4f4f" opacity=".75"/><rect x="-6.6" y="977.2" width="13.2" height="1" fill="#f2f2f2" opacity=".4"/><rect x="-7.6" y="997.65" width="15.2" height="1.2" fill="#4f4f4f" opacity=".75"/><rect x="-6.6" y="998.95" width="13.2" height="1" fill="#f2f2f2" opacity=".4"/><rect x="-7.6" y="1019.4" width="15.2" height="1.2" fill="#4f4f4f" opacity=".75"/><rect x="-6.6" y="1020.7" width="13.2" height="1" fill="#f2f2f2" opacity=".4"/><rect x="-7.6" y="1041.15" width="15.2" height="1.2" fill="#4f4f4f" opacity=".75"/><rect x="-6.6" y="1042.45" width="13.2" height="1" fill="#f2f2f2" opacity=".4"/><rect x="-7.6" y="1062.9" width="15.2" height="1.2" fill="#4f4f4f" opacity=".75"/><rect x="-6.6" y="1064.2" width="13.2" height="1" fill="#f2f2f2" opacity=".4"/><rect x="-7.6" y="1066.9" width="15.2" height="1.2" fill="#4f4f4f" opacity=".75"/><rect x="-6.6" y="1068.2" width="13.2" height="1" fill="#f2f2f2" opacity=".38"/><rect x="-7.6" y="1084.65" width="15.2" height="1.2" fill="#4f4f4f" opacity=".75"/><rect x="-6.6" y="1085.95" width="13.2" height="1" fill="#f2f2f2" opacity=".4"/><rect x="-7.6" y="1106.4" width="15.2" height="1.2" fill="#4f4f4f" opacity=".75"/><rect x="-6.6" y="1107.7" width="13.2" height="1" fill="#f2f2f2" opacity=".4"/><rect x="-7.6" y="1128.15" width="15.2" height="1.2" fill="#4f4f4f" opacity=".75"/><rect x="-6.6" y="1129.45" width="13.2" height="1" fill="#f2f2f2" opacity=".4"/><rect x="-7.6" y="1149.9" width="15.2" height="1.2" fill="#4f4f4f" opacity=".75"/><rect x="-6.6" y="1151.2" width="13.2" height="1" fill="#f2f2f2" opacity=".4"/><rect x="-7.6" y="1171.65" width="15.2" height="1.2" fill="#4f4f4f" opacity=".75"/><rect x="-6.6" y="1172.95" width="13.2" height="1" fill="#f2f2f2" opacity=".4"/><rect x="-7.6" y="1175.65" width="15.2" height="1.2" fill="#4f4f4f" opacity=".75"/><rect x="-6.6" y="1176.95" width="13.2" height="1" fill="#f2f2f2" opacity=".38"/><rect x="-7.6" y="1193.4" width="15.2" height="1.2" fill="#4f4f4f" opacity=".75"/><rect x="-6.6" y="1194.7" width="13.2" height="1" fill="#f2f2f2" opacity=".4"/><rect x="-7.6" y="1215.15" width="15.2" height="1.2" fill="#4f4f4f" opacity=".75"/><rect x="-6.6" y="1216.45" width="13.2" height="1" fill="#f2f2f2" opacity=".4"/><rect x="-7.6" y="1236.9" width="15.2" height="1.2" fill="#4f4f4f" opacity=".75"/><rect x="-6.6" y="1238.2" width="13.2" height="1" fill="#f2f2f2" opacity=".4"/><rect x="-7.6" y="1258.65" width="15.2" height="1.2" fill="#4f4f4f" opacity=".75"/><rect x="-6.6" y="1259.95" width="13.2" height="1" fill="#f2f2f2" opacity=".4"/><rect x="-7.6" y="1280.4" width="15.2" height="1.2" fill="#4f4f4f" opacity=".75"/><rect x="-6.6" y="1281.7" width="13.2" height="1" fill="#f2f2f2" opacity=".4"/><rect x="-7.6" y="1284.4" width="15.2" height="1.2" fill="#4f4f4f" opacity=".75"/><rect x="-6.6" y="1285.7" width="13.2" height="1" fill="#f2f2f2" opacity=".38"/><rect x="-7.6" y="1302.15" width="15.2" height="1.2" fill="#4f4f4f" opacity=".75"/><rect x="-6.6" y="1303.45" width="13.2" height="1" fill="#f2f2f2" opacity=".4"/><rect x="-7.6" y="1323.9" width="15.2" height="1.2" fill="#4f4f4f" opacity=".75"/><rect x="-6.6" y="1325.2" width="13.2" height="1" fill="#f2f2f2" opacity=".4"/><rect x="-7.6" y="1345.65" width="15.2" height="1.2" fill="#4f4f4f" opacity=".75"/><rect x="-6.6" y="1346.95" width="13.2" height="1" fill="#f2f2f2" opacity=".4"/><rect x="-7.6" y="1367.4" width="15.2" height="1.2" fill="#4f4f4f" opacity=".75"/><rect x="-6.6" y="1368.7" width="13.2" height="1" fill="#f2f2f2" opacity=".4"/>
</g>
<rect x="7.36" y="671" width="16.4" height="101.4" fill="#a2a2a2" opacity=".8"/>
<rect x="4.96" y="703" width="21.2" height="26" rx="1.5" fill="#aaa9a9" opacity=".93"/>
<rect x="132.74" y="671" width="15.2" height="101.4" fill="#a2a2a2" opacity=".8"/>
<rect x="500.12" y="671" width="15.6" height="101.4" fill="#a2a2a2" opacity=".8"/>
<rect x="497.62" y="702.6" width="20.6" height="32.4" rx="1.5" fill="#aaa9a9" opacity=".93"/>
<rect x="2.8" y="104.7" width="20.6" height="28.5" rx="1.6" fill="url(#gCollar)"/>
<rect x="3.8" y="105.3" width="18.6" height="1" fill="#eee" opacity=".5"/>
<ellipse cx="13.1" cy="105.5" rx="9.7" ry="1.6" fill="#c9c9c9" stroke="#8c8c8c" stroke-width=".7"/>
<rect x="4.3" y="132.8" width="17.6" height="3.2" rx="1.2" fill="#1c1c1c"/>
<rect x="499.75" y="104.8" width="20" height="28.2" rx="1.6" fill="url(#gCollar)"/>
<rect x="500.75" y="105.4" width="18" height="1" fill="#eee" opacity=".5"/>
<ellipse cx="509.75" cy="105.6" rx="9.4" ry="1.6" fill="#c9c9c9" stroke="#8c8c8c" stroke-width=".7"/>
<rect x="501.35" y="132.6" width="16.8" height="3.2" rx="1.2" fill="#1c1c1c"/>
<rect x="3.79" y="348" width="20.6" height="28" rx="1.6" fill="url(#gCollar)"/>
<rect x="4.79" y="348.6" width="18.6" height="1" fill="#eee" opacity=".5"/>
<rect x="5.29" y="375.6" width="17.6" height="3.2" rx="1.2" fill="#1c1c1c"/>
<rect x="499.01" y="347" width="20" height="28" rx="1.6" fill="url(#gCollar)"/>
<rect x="500.01" y="347.6" width="18" height="1" fill="#eee" opacity=".5"/>
<rect x="500.61" y="374.6" width="16.8" height="3.2" rx="1.2" fill="#1c1c1c"/>
<rect x="4.75" y="582.5" width="20.6" height="28.5" rx="1.6" fill="url(#gCollar)"/>
<rect x="5.75" y="583.1" width="18.6" height="1" fill="#eee" opacity=".5"/>
<rect x="6.25" y="610.6" width="17.6" height="3.2" rx="1.2" fill="#1c1c1c"/>
<rect x="498.3" y="583.6" width="20" height="26.2" rx="1.6" fill="url(#gCollar)"/>
<rect x="499.3" y="584.2" width="18" height="1" fill="#eee" opacity=".5"/>
<rect x="499.9" y="609.4" width="16.8" height="3.2" rx="1.2" fill="#1c1c1c"/>
<rect x="5.82" y="842" width="20.6" height="28.5" rx="1.6" fill="url(#gCollar)"/>
<rect x="6.82" y="842.6" width="18.6" height="1" fill="#eee" opacity=".5"/>
<rect x="7.32" y="870.1" width="17.6" height="3.2" rx="1.2" fill="#1c1c1c"/>
<rect x="497.5" y="842" width="20" height="28.5" rx="1.6" fill="url(#gCollar)"/>
<rect x="498.5" y="842.6" width="18" height="1" fill="#eee" opacity=".5"/>
<rect x="499.1" y="870.1" width="16.8" height="3.2" rx="1.2" fill="#1c1c1c"/>
<rect x="6.81" y="1085" width="20.6" height="29" rx="1.6" fill="url(#gCollar)"/>
<rect x="7.81" y="1085.6" width="18.6" height="1" fill="#eee" opacity=".5"/>
<rect x="8.31" y="1113.6" width="17.6" height="3.2" rx="1.2" fill="#1c1c1c"/>
<rect x="496.77" y="1084" width="20" height="28.5" rx="1.6" fill="url(#gCollar)"/>
<rect x="497.77" y="1084.6" width="18" height="1" fill="#eee" opacity=".5"/>
<rect x="498.37" y="1112.1" width="16.8" height="3.2" rx="1.2" fill="#1c1c1c"/>
<rect x="7.7" y="1303" width="20.6" height="28.4" rx="1.6" fill="url(#gCollar)"/>
<rect x="8.7" y="1303.6" width="18.6" height="1" fill="#eee" opacity=".5"/>
<rect x="9.2" y="1331" width="17.6" height="3.2" rx="1.2" fill="#1c1c1c"/>
<rect x="496.1" y="1303" width="20" height="28.4" rx="1.6" fill="url(#gCollar)"/>
<rect x="497.1" y="1303.6" width="18" height="1" fill="#eee" opacity=".5"/>
<rect x="497.7" y="1331" width="16.8" height="3.2" rx="1.2" fill="#1c1c1c"/>
<polyline points="427.73,89.7 432.35,99.19 441.89,86.47 450.98,104.89 460.68,92.73 469.6,110.58 479.47,98.99 488.23,116.28 498.25,105.25 506.85,121.97 511.95,116.74" fill="none" stroke="#717171" stroke-width="2.2" stroke-linejoin="round" stroke-linecap="round"/>
<polyline points="427.53,89.45 432.15,98.94 441.69,86.22 450.78,104.64 460.48,92.48 469.4,110.33 479.27,98.74 488.03,116.03 498.05,105 506.65,121.72 511.75,116.49" fill="none" stroke="#bcbcbc" stroke-width="0.88" stroke-linejoin="round" stroke-linecap="round"/>
<line x1="415" y1="95" x2="517" y2="126" stroke="#636363" stroke-width="3.8" stroke-linecap="butt"/>
<line x1="415" y1="95" x2="517" y2="126" stroke="#989898" stroke-width="2.6" stroke-linecap="butt"/>
<line x1="415.15" y1="94.49" x2="517.15" y2="125.49" stroke="#d5d5d5" stroke-width="1.22" stroke-linecap="butt"/>
<line x1="415" y1="76.4" x2="518" y2="110.9" stroke="#636363" stroke-width="3.8" stroke-linecap="butt"/>
<line x1="415" y1="76.4" x2="518" y2="110.9" stroke="#989898" stroke-width="2.6" stroke-linecap="butt"/>
<line x1="415.17" y1="75.9" x2="518.17" y2="110.4" stroke="#d5d5d5" stroke-width="1.22" stroke-linecap="butt"/>
<polyline points="24.88,118.31 34.47,125.04 53.65,108.29 72.83,122.02 92.01,105 111.19,118.99 130.37,101.71 149.55,115.97 168.73,98.42 187.91,112.95 207.09,95.13 226.27,109.93 245.46,91.85 264.64,106.91 283.82,88.56 303,103.89 322.18,85.27 341.36,100.87 360.54,81.98 379.72,97.85 389.31,88.27" fill="none" stroke="#656565" stroke-width="2.4" stroke-linejoin="round" stroke-linecap="round"/>
<polyline points="24.68,118.06 34.27,124.79 53.45,108.04 72.63,121.77 91.81,104.75 110.99,118.74 130.17,101.46 149.35,115.72 168.53,98.17 187.71,112.7 206.89,94.88 226.07,109.68 245.26,91.6 264.44,106.66 283.62,88.31 302.8,103.64 321.98,85.02 341.16,100.62 360.34,81.73 379.52,97.6 389.11,88.02" fill="none" stroke="#a8a8a8" stroke-width="0.96" stroke-linejoin="round" stroke-linecap="round"/>
<line x1="13.6" y1="127.7" x2="393" y2="98" stroke="#585858" stroke-width="3.8" stroke-linecap="butt"/>
<line x1="13.6" y1="127.7" x2="393" y2="98" stroke="#888888" stroke-width="2.6" stroke-linecap="butt"/>
<line x1="13.56" y1="127.17" x2="392.96" y2="97.47" stroke="#bebebe" stroke-width="1.22" stroke-linecap="butt"/>
<line x1="13.6" y1="110.7" x2="393" y2="78" stroke="#585858" stroke-width="3.8" stroke-linecap="butt"/>
<line x1="13.6" y1="110.7" x2="393" y2="78" stroke="#888888" stroke-width="2.6" stroke-linecap="butt"/>
<line x1="13.55" y1="110.17" x2="392.95" y2="77.47" stroke="#bebebe" stroke-width="1.22" stroke-linecap="butt"/>
<polyline points="426.71,347.74 431.35,357.05 440.77,341.35 449.97,359.87 459.47,344.26 468.59,362.68 478.17,347.17 487.21,365.5 496.87,350.09 505.83,368.32 510.7,360.66" fill="none" stroke="#717171" stroke-width="2.2" stroke-linejoin="round" stroke-linecap="round"/>
<polyline points="426.51,347.49 431.15,356.8 440.57,341.1 449.77,359.62 459.27,344.01 468.39,362.43 477.97,346.92 487.01,365.25 496.67,349.84 505.63,368.07 510.5,360.41" fill="none" stroke="#bcbcbc" stroke-width="0.88" stroke-linejoin="round" stroke-linecap="round"/>
<line x1="414" y1="355.6" x2="516" y2="371" stroke="#636363" stroke-width="3.8" stroke-linecap="butt"/>
<line x1="414" y1="355.6" x2="516" y2="371" stroke="#989898" stroke-width="2.6" stroke-linecap="butt"/>
<line x1="414.08" y1="355.07" x2="516.08" y2="370.47" stroke="#d5d5d5" stroke-width="1.22" stroke-linecap="butt"/>
<line x1="414" y1="336" x2="516.5" y2="352" stroke="#636363" stroke-width="3.8" stroke-linecap="butt"/>
<line x1="414" y1="336" x2="516.5" y2="352" stroke="#989898" stroke-width="2.6" stroke-linecap="butt"/>
<line x1="414.08" y1="335.47" x2="516.58" y2="351.47" stroke="#d5d5d5" stroke-width="1.22" stroke-linecap="butt"/>
<polyline points="25.23,362.37 34.79,369.31 53.9,353.92 73.01,368.04 92.12,352.42 111.23,366.76 130.34,350.92 149.45,365.48 168.56,349.42 187.67,364.2 206.78,347.92 225.89,362.92 245,346.41 264.11,361.64 283.22,344.91 302.33,360.36 321.44,343.41 340.55,359.08 359.66,341.91 378.77,357.8 388.32,349.11" fill="none" stroke="#656565" stroke-width="2.4" stroke-linejoin="round" stroke-linecap="round"/>
<polyline points="25.04,362.12 34.59,369.06 53.7,353.67 72.81,367.79 91.92,352.17 111.03,366.51 130.14,350.67 149.25,365.23 168.36,349.17 187.47,363.95 206.58,347.67 225.69,362.67 244.8,346.16 263.91,361.39 283.02,344.66 302.13,360.11 321.24,343.16 340.35,358.83 359.46,341.66 378.57,357.55 388.12,348.86" fill="none" stroke="#a8a8a8" stroke-width="0.96" stroke-linejoin="round" stroke-linecap="round"/>
<line x1="14" y1="371" x2="392" y2="358.5" stroke="#585858" stroke-width="3.8" stroke-linecap="butt"/>
<line x1="14" y1="371" x2="392" y2="358.5" stroke="#888888" stroke-width="2.6" stroke-linecap="butt"/>
<line x1="13.98" y1="370.47" x2="391.98" y2="357.97" stroke="#bebebe" stroke-width="1.22" stroke-linecap="butt"/>
<line x1="14" y1="354.5" x2="392" y2="339.5" stroke="#585858" stroke-width="3.8" stroke-linecap="butt"/>
<line x1="14" y1="354.5" x2="392" y2="339.5" stroke="#888888" stroke-width="2.6" stroke-linecap="butt"/>
<line x1="13.98" y1="353.97" x2="391.98" y2="338.97" stroke="#bebebe" stroke-width="1.22" stroke-linecap="butt"/>
<polyline points="423.7,596.04 427.62,604.06 435.47,587.84 443.31,603.81 451.16,587.65 459.01,603.56 466.86,587.46 474.7,603.31 482.55,587.28 490.4,603.06 494.32,595.07" fill="none" stroke="#717171" stroke-width="2.2" stroke-linejoin="round" stroke-linecap="round"/>
<polyline points="423.5,595.79 427.42,603.81 435.27,587.59 443.12,603.56 450.96,587.4 458.81,603.31 466.66,587.21 474.5,603.06 482.35,587.03 490.2,602.81 494.12,594.82" fill="none" stroke="#bcbcbc" stroke-width="0.88" stroke-linejoin="round" stroke-linecap="round"/>
<line x1="413" y1="605.4" x2="499" y2="604" stroke="#636363" stroke-width="3.8" stroke-linecap="butt"/>
<line x1="413" y1="605.4" x2="499" y2="604" stroke="#989898" stroke-width="2.6" stroke-linecap="butt"/>
<line x1="412.99" y1="604.87" x2="498.99" y2="603.47" stroke="#d5d5d5" stroke-width="1.22" stroke-linecap="butt"/>
<line x1="413" y1="587" x2="499" y2="586" stroke="#636363" stroke-width="3.8" stroke-linecap="butt"/>
<line x1="413" y1="587" x2="499" y2="586" stroke="#989898" stroke-width="2.6" stroke-linecap="butt"/>
<line x1="412.99" y1="586.47" x2="498.99" y2="585.47" stroke="#d5d5d5" stroke-width="1.22" stroke-linecap="butt"/>
<polyline points="26.21,598.26 35.73,605.53 54.79,590.89 73.85,605.57 92.91,590.8 111.97,605.62 131.03,590.71 150.09,605.66 169.15,590.62 188.21,605.7 207.27,590.53 226.33,605.74 245.39,590.43 264.45,605.78 283.51,590.34 302.57,605.82 321.63,590.25 340.69,605.86 359.75,590.16 378.81,605.91 388.33,597.99" fill="none" stroke="#656565" stroke-width="2.4" stroke-linejoin="round" stroke-linecap="round"/>
<polyline points="26.01,598.01 35.53,605.28 54.59,590.64 73.65,605.32 92.71,590.55 111.77,605.37 130.83,590.46 149.89,605.41 168.95,590.37 188.01,605.45 207.07,590.28 226.13,605.49 245.19,590.18 264.25,605.53 283.31,590.09 302.37,605.57 321.43,590 340.49,605.61 359.55,589.91 378.61,605.66 388.13,597.74" fill="none" stroke="#a8a8a8" stroke-width="0.96" stroke-linejoin="round" stroke-linecap="round"/>
<line x1="15" y1="606.5" x2="392" y2="607" stroke="#585858" stroke-width="3.8" stroke-linecap="butt"/>
<line x1="15" y1="606.5" x2="392" y2="607" stroke="#888888" stroke-width="2.6" stroke-linecap="butt"/>
<line x1="15" y1="605.97" x2="392" y2="606.47" stroke="#bebebe" stroke-width="1.22" stroke-linecap="butt"/>
<line x1="15" y1="590" x2="392" y2="589" stroke="#585858" stroke-width="3.8" stroke-linecap="butt"/>
<line x1="15" y1="590" x2="392" y2="589" stroke="#888888" stroke-width="2.6" stroke-linecap="butt"/>
<line x1="15" y1="589.47" x2="392" y2="588.47" stroke="#bebebe" stroke-width="1.22" stroke-linecap="butt"/>
<polyline points="424.25,872.22 427.61,879.66 439.14,861.68 443.3,876.62 457.39,858.58 458.99,873.59 475.65,855.48 474.68,870.56 493.91,852.39 490.36,867.52 501.26,858.41" fill="none" stroke="#717171" stroke-width="2.2" stroke-linejoin="round" stroke-linecap="round"/>
<polyline points="424.05,871.97 427.41,879.41 438.94,861.43 443.1,876.37 457.19,858.33 458.79,873.34 475.45,855.23 474.48,870.31 493.71,852.14 490.16,867.27 501.06,858.16" fill="none" stroke="#bcbcbc" stroke-width="0.88" stroke-linejoin="round" stroke-linecap="round"/>
<line x1="413" y1="883.6" x2="498" y2="867" stroke="#636363" stroke-width="3.8" stroke-linecap="butt"/>
<line x1="413" y1="883.6" x2="498" y2="867" stroke="#989898" stroke-width="2.6" stroke-linecap="butt"/>
<line x1="412.9" y1="883.08" x2="497.9" y2="866.48" stroke="#d5d5d5" stroke-width="1.22" stroke-linecap="butt"/>
<line x1="413" y1="865" x2="514" y2="848" stroke="#636363" stroke-width="3.8" stroke-linecap="butt"/>
<line x1="413" y1="865" x2="514" y2="848" stroke="#989898" stroke-width="2.6" stroke-linecap="butt"/>
<line x1="412.91" y1="864.48" x2="513.91" y2="847.48" stroke="#d5d5d5" stroke-width="1.22" stroke-linecap="butt"/>
<polyline points="28.49,859.14 38.5,867.11 58.52,853.51 78.53,869.12 98.55,855.86 118.56,871.13 138.58,858.21 158.59,873.13 178.61,860.55 198.63,875.14 218.64,862.9 238.66,877.15 258.67,865.25 278.69,879.16 298.7,867.59 318.72,881.17 338.73,869.94 358.75,883.18 368.76,877.73" fill="none" stroke="#656565" stroke-width="2.4" stroke-linejoin="round" stroke-linecap="round"/>
<polyline points="28.29,858.89 38.3,866.86 58.32,853.26 78.33,868.87 98.35,855.61 118.36,870.88 138.38,857.96 158.39,872.88 178.41,860.3 198.43,874.89 218.44,862.65 238.46,876.9 258.47,865 278.49,878.91 298.5,867.34 318.52,880.92 338.53,869.69 358.55,882.93 368.56,877.48" fill="none" stroke="#a8a8a8" stroke-width="0.96" stroke-linejoin="round" stroke-linecap="round"/>
<line x1="16" y1="867" x2="391" y2="885.6" stroke="#585858" stroke-width="3.8" stroke-linecap="butt"/>
<line x1="16" y1="867" x2="391" y2="885.6" stroke="#888888" stroke-width="2.6" stroke-linecap="butt"/>
<line x1="16.03" y1="866.47" x2="391.03" y2="885.07" stroke="#bebebe" stroke-width="1.22" stroke-linecap="butt"/>
<line x1="16" y1="850" x2="391" y2="872.2" stroke="#585858" stroke-width="3.8" stroke-linecap="butt"/>
<line x1="16" y1="850" x2="391" y2="872.2" stroke="#888888" stroke-width="2.6" stroke-linecap="butt"/>
<line x1="16.03" y1="849.47" x2="391.03" y2="871.67" stroke="#bebebe" stroke-width="1.22" stroke-linecap="butt"/>
<polyline points="424.2,1128.85 427.6,1135.67 438.89,1116.28 443.28,1130.08 456.98,1110.52 458.96,1124.48 475.06,1104.76 474.63,1118.89 493.15,1099.01 490.31,1113.29 500.77,1103.27" fill="none" stroke="#717171" stroke-width="2.2" stroke-linejoin="round" stroke-linecap="round"/>
<polyline points="424,1128.6 427.4,1135.42 438.69,1116.03 443.08,1129.83 456.78,1110.27 458.76,1124.23 474.86,1104.51 474.43,1118.64 492.95,1098.76 490.11,1113.04 500.57,1103.02" fill="none" stroke="#bcbcbc" stroke-width="0.88" stroke-linejoin="round" stroke-linecap="round"/>
<line x1="413" y1="1142" x2="498" y2="1111.4" stroke="#636363" stroke-width="3.8" stroke-linecap="butt"/>
<line x1="413" y1="1142" x2="498" y2="1111.4" stroke="#989898" stroke-width="2.6" stroke-linecap="butt"/>
<line x1="412.82" y1="1141.5" x2="497.82" y2="1110.9" stroke="#d5d5d5" stroke-width="1.22" stroke-linecap="butt"/>
<line x1="413" y1="1123.4" x2="513" y2="1091.8" stroke="#636363" stroke-width="3.8" stroke-linecap="butt"/>
<line x1="413" y1="1123.4" x2="513" y2="1091.8" stroke="#989898" stroke-width="2.6" stroke-linecap="butt"/>
<line x1="412.84" y1="1122.89" x2="512.84" y2="1091.29" stroke="#d5d5d5" stroke-width="1.22" stroke-linecap="butt"/>
<polyline points="30.91,1102.65 40.85,1111.05 60.73,1097.81 80.61,1114.74 100.5,1101.39 120.38,1118.42 140.26,1104.96 160.14,1122.11 180.03,1108.53 199.91,1125.8 219.79,1112.11 239.67,1129.48 259.55,1115.68 279.44,1133.17 299.32,1119.25 319.2,1136.85 339.08,1122.83 358.97,1140.54 368.91,1133.47" fill="none" stroke="#656565" stroke-width="2.4" stroke-linejoin="round" stroke-linecap="round"/>
<polyline points="30.71,1102.4 40.65,1110.8 60.53,1097.56 80.41,1114.49 100.3,1101.14 120.18,1118.17 140.06,1104.71 159.94,1121.86 179.83,1108.28 199.71,1125.55 219.59,1111.86 239.47,1129.23 259.35,1115.43 279.24,1132.92 299.12,1119 319,1136.6 338.88,1122.58 358.77,1140.29 368.71,1133.22" fill="none" stroke="#a8a8a8" stroke-width="0.96" stroke-linejoin="round" stroke-linecap="round"/>
<line x1="18.5" y1="1110" x2="391" y2="1144.6" stroke="#585858" stroke-width="3.8" stroke-linecap="butt"/>
<line x1="18.5" y1="1110" x2="391" y2="1144.6" stroke="#888888" stroke-width="2.6" stroke-linecap="butt"/>
<line x1="18.55" y1="1109.47" x2="391.05" y2="1144.07" stroke="#bebebe" stroke-width="1.22" stroke-linecap="butt"/>
<line x1="18.5" y1="1093" x2="391" y2="1126.4" stroke="#585858" stroke-width="3.8" stroke-linecap="butt"/>
<line x1="18.5" y1="1093" x2="391" y2="1126.4" stroke="#888888" stroke-width="2.6" stroke-linecap="butt"/>
<line x1="18.55" y1="1092.47" x2="391.05" y2="1125.87" stroke="#bebebe" stroke-width="1.22" stroke-linecap="butt"/>
<polyline points="423.33,1361.61 426.77,1367.33 438.15,1346.98 442.63,1359.15 456.42,1338.07 458.49,1350.96 474.69,1329.16 474.35,1342.77 492.96,1320.25 490.21,1334.58 500.72,1322.96" fill="none" stroke="#717171" stroke-width="2.2" stroke-linejoin="round" stroke-linecap="round"/>
<polyline points="423.13,1361.36 426.57,1367.08 437.95,1346.73 442.43,1358.9 456.22,1337.82 458.29,1350.71 474.49,1328.91 474.15,1342.52 492.76,1320 490.01,1334.33 500.52,1322.71" fill="none" stroke="#bcbcbc" stroke-width="0.88" stroke-linejoin="round" stroke-linecap="round"/>
<line x1="412" y1="1376" x2="498" y2="1331.4" stroke="#636363" stroke-width="3.8" stroke-linecap="butt"/>
<line x1="412" y1="1376" x2="498" y2="1331.4" stroke="#989898" stroke-width="2.6" stroke-linecap="butt"/>
<line x1="411.76" y1="1375.53" x2="497.76" y2="1330.93" stroke="#d5d5d5" stroke-width="1.22" stroke-linecap="butt"/>
<line x1="412" y1="1358.7" x2="513" y2="1309.6" stroke="#636363" stroke-width="3.8" stroke-linecap="butt"/>
<line x1="412" y1="1358.7" x2="513" y2="1309.6" stroke="#989898" stroke-width="2.6" stroke-linecap="butt"/>
<line x1="411.77" y1="1358.22" x2="512.77" y2="1309.12" stroke="#d5d5d5" stroke-width="1.22" stroke-linecap="butt"/>
<polyline points="31.94,1322.29 41.82,1330.79 61.59,1318.92 81.36,1336.08 101.13,1324.04 120.9,1341.36 140.67,1329.17 160.44,1346.64 180.21,1334.29 199.98,1351.93 219.75,1339.42 239.52,1357.21 259.3,1344.54 279.07,1362.5 298.84,1349.67 318.61,1367.78 338.38,1354.79 358.15,1373.06 368.03,1366.49" fill="none" stroke="#656565" stroke-width="2.4" stroke-linejoin="round" stroke-linecap="round"/>
<polyline points="31.74,1322.04 41.62,1330.54 61.39,1318.67 81.16,1335.83 100.93,1323.79 120.7,1341.11 140.47,1328.92 160.24,1346.39 180.01,1334.04 199.78,1351.68 219.55,1339.17 239.32,1356.96 259.1,1344.29 278.87,1362.25 298.64,1349.42 318.41,1367.53 338.18,1354.54 357.95,1372.81 367.83,1366.24" fill="none" stroke="#a8a8a8" stroke-width="0.96" stroke-linejoin="round" stroke-linecap="round"/>
<line x1="19.6" y1="1328.8" x2="390" y2="1378.4" stroke="#585858" stroke-width="3.8" stroke-linecap="butt"/>
<line x1="19.6" y1="1328.8" x2="390" y2="1378.4" stroke="#888888" stroke-width="2.6" stroke-linecap="butt"/>
<line x1="19.67" y1="1328.27" x2="390.07" y2="1377.87" stroke="#bebebe" stroke-width="1.22" stroke-linecap="butt"/>
<line x1="19.6" y1="1312.5" x2="390" y2="1360.4" stroke="#585858" stroke-width="3.8" stroke-linecap="butt"/>
<line x1="19.6" y1="1312.5" x2="390" y2="1360.4" stroke="#888888" stroke-width="2.6" stroke-linecap="butt"/>
<line x1="19.67" y1="1311.97" x2="390.07" y2="1359.87" stroke="#bebebe" stroke-width="1.22" stroke-linecap="butt"/>
<g transform="matrix(1 0 -0.00210 1 403.88 0)">
<rect x="-8.7" y="69.6" width="17.4" height="1361.4" fill="url(#gPole)"/>
<rect x="-8.7" y="107.6" width="17.4" height="1.2" fill="#4f4f4f" opacity=".75"/><rect x="-7.7" y="108.9" width="15.4" height="1" fill="#f2f2f2" opacity=".4"/><rect x="-8.7" y="130.6" width="17.4" height="1.2" fill="#4f4f4f" opacity=".75"/><rect x="-7.7" y="131.9" width="15.4" height="1" fill="#f2f2f2" opacity=".4"/><rect x="-8.7" y="153.6" width="17.4" height="1.2" fill="#4f4f4f" opacity=".75"/><rect x="-7.7" y="154.9" width="15.4" height="1" fill="#f2f2f2" opacity=".4"/><rect x="-8.7" y="176.6" width="17.4" height="1.2" fill="#4f4f4f" opacity=".75"/><rect x="-7.7" y="177.9" width="15.4" height="1" fill="#f2f2f2" opacity=".4"/><rect x="-8.7" y="180.6" width="17.4" height="1.2" fill="#4f4f4f" opacity=".75"/><rect x="-7.7" y="181.9" width="15.4" height="1" fill="#f2f2f2" opacity=".38"/><rect x="-8.7" y="199.6" width="17.4" height="1.2" fill="#4f4f4f" opacity=".75"/><rect x="-7.7" y="200.9" width="15.4" height="1" fill="#f2f2f2" opacity=".4"/><rect x="-8.7" y="222.6" width="17.4" height="1.2" fill="#4f4f4f" opacity=".75"/><rect x="-7.7" y="223.9" width="15.4" height="1" fill="#f2f2f2" opacity=".4"/><rect x="-8.7" y="245.6" width="17.4" height="1.2" fill="#4f4f4f" opacity=".75"/><rect x="-7.7" y="246.9" width="15.4" height="1" fill="#f2f2f2" opacity=".4"/><rect x="-8.7" y="268.6" width="17.4" height="1.2" fill="#4f4f4f" opacity=".75"/><rect x="-7.7" y="269.9" width="15.4" height="1" fill="#f2f2f2" opacity=".4"/><rect x="-8.7" y="291.6" width="17.4" height="1.2" fill="#4f4f4f" opacity=".75"/><rect x="-7.7" y="292.9" width="15.4" height="1" fill="#f2f2f2" opacity=".4"/><rect x="-8.7" y="295.6" width="17.4" height="1.2" fill="#4f4f4f" opacity=".75"/><rect x="-7.7" y="296.9" width="15.4" height="1" fill="#f2f2f2" opacity=".38"/><rect x="-8.7" y="314.6" width="17.4" height="1.2" fill="#4f4f4f" opacity=".75"/><rect x="-7.7" y="315.9" width="15.4" height="1" fill="#f2f2f2" opacity=".4"/><rect x="-8.7" y="337.6" width="17.4" height="1.2" fill="#4f4f4f" opacity=".75"/><rect x="-7.7" y="338.9" width="15.4" height="1" fill="#f2f2f2" opacity=".4"/><rect x="-8.7" y="360.6" width="17.4" height="1.2" fill="#4f4f4f" opacity=".75"/><rect x="-7.7" y="361.9" width="15.4" height="1" fill="#f2f2f2" opacity=".4"/><rect x="-8.7" y="383.6" width="17.4" height="1.2" fill="#4f4f4f" opacity=".75"/><rect x="-7.7" y="384.9" width="15.4" height="1" fill="#f2f2f2" opacity=".4"/><rect x="-8.7" y="406.6" width="17.4" height="1.2" fill="#4f4f4f" opacity=".75"/><rect x="-7.7" y="407.9" width="15.4" height="1" fill="#f2f2f2" opacity=".4"/><rect x="-8.7" y="410.6" width="17.4" height="1.2" fill="#4f4f4f" opacity=".75"/><rect x="-7.7" y="411.9" width="15.4" height="1" fill="#f2f2f2" opacity=".38"/><rect x="-8.7" y="429.6" width="17.4" height="1.2" fill="#4f4f4f" opacity=".75"/><rect x="-7.7" y="430.9" width="15.4" height="1" fill="#f2f2f2" opacity=".4"/><rect x="-8.7" y="452.6" width="17.4" height="1.2" fill="#4f4f4f" opacity=".75"/><rect x="-7.7" y="453.9" width="15.4" height="1" fill="#f2f2f2" opacity=".4"/><rect x="-8.7" y="475.6" width="17.4" height="1.2" fill="#4f4f4f" opacity=".75"/><rect x="-7.7" y="476.9" width="15.4" height="1" fill="#f2f2f2" opacity=".4"/><rect x="-8.7" y="498.6" width="17.4" height="1.2" fill="#4f4f4f" opacity=".75"/><rect x="-7.7" y="499.9" width="15.4" height="1" fill="#f2f2f2" opacity=".4"/><rect x="-8.7" y="521.6" width="17.4" height="1.2" fill="#4f4f4f" opacity=".75"/><rect x="-7.7" y="522.9" width="15.4" height="1" fill="#f2f2f2" opacity=".4"/><rect x="-8.7" y="525.6" width="17.4" height="1.2" fill="#4f4f4f" opacity=".75"/><rect x="-7.7" y="526.9" width="15.4" height="1" fill="#f2f2f2" opacity=".38"/><rect x="-8.7" y="544.6" width="17.4" height="1.2" fill="#4f4f4f" opacity=".75"/><rect x="-7.7" y="545.9" width="15.4" height="1" fill="#f2f2f2" opacity=".4"/><rect x="-8.7" y="567.6" width="17.4" height="1.2" fill="#4f4f4f" opacity=".75"/><rect x="-7.7" y="568.9" width="15.4" height="1" fill="#f2f2f2" opacity=".4"/><rect x="-8.7" y="590.6" width="17.4" height="1.2" fill="#4f4f4f" opacity=".75"/><rect x="-7.7" y="591.9" width="15.4" height="1" fill="#f2f2f2" opacity=".4"/><rect x="-8.7" y="613.6" width="17.4" height="1.2" fill="#4f4f4f" opacity=".75"/><rect x="-7.7" y="614.9" width="15.4" height="1" fill="#f2f2f2" opacity=".4"/><rect x="-8.7" y="636.6" width="17.4" height="1.2" fill="#4f4f4f" opacity=".75"/><rect x="-7.7" y="637.9" width="15.4" height="1" fill="#f2f2f2" opacity=".4"/><rect x="-8.7" y="640.6" width="17.4" height="1.2" fill="#4f4f4f" opacity=".75"/><rect x="-7.7" y="641.9" width="15.4" height="1" fill="#f2f2f2" opacity=".38"/><rect x="-8.7" y="659.6" width="17.4" height="1.2" fill="#4f4f4f" opacity=".75"/><rect x="-7.7" y="660.9" width="15.4" height="1" fill="#f2f2f2" opacity=".4"/><rect x="-8.7" y="682.6" width="17.4" height="1.2" fill="#4f4f4f" opacity=".75"/><rect x="-7.7" y="683.9" width="15.4" height="1" fill="#f2f2f2" opacity=".4"/><rect x="-8.7" y="705.6" width="17.4" height="1.2" fill="#4f4f4f" opacity=".75"/><rect x="-7.7" y="706.9" width="15.4" height="1" fill="#f2f2f2" opacity=".4"/><rect x="-8.7" y="728.6" width="17.4" height="1.2" fill="#4f4f4f" opacity=".75"/><rect x="-7.7" y="729.9" width="15.4" height="1" fill="#f2f2f2" opacity=".4"/><rect x="-8.7" y="751.6" width="17.4" height="1.2" fill="#4f4f4f" opacity=".75"/><rect x="-7.7" y="752.9" width="15.4" height="1" fill="#f2f2f2" opacity=".4"/><rect x="-8.7" y="755.6" width="17.4" height="1.2" fill="#4f4f4f" opacity=".75"/><rect x="-7.7" y="756.9" width="15.4" height="1" fill="#f2f2f2" opacity=".38"/><rect x="-8.7" y="774.6" width="17.4" height="1.2" fill="#4f4f4f" opacity=".75"/><rect x="-7.7" y="775.9" width="15.4" height="1" fill="#f2f2f2" opacity=".4"/><rect x="-8.7" y="797.6" width="17.4" height="1.2" fill="#4f4f4f" opacity=".75"/><rect x="-7.7" y="798.9" width="15.4" height="1" fill="#f2f2f2" opacity=".4"/><rect x="-8.7" y="820.6" width="17.4" height="1.2" fill="#4f4f4f" opacity=".75"/><rect x="-7.7" y="821.9" width="15.4" height="1" fill="#f2f2f2" opacity=".4"/><rect x="-8.7" y="843.6" width="17.4" height="1.2" fill="#4f4f4f" opacity=".75"/><rect x="-7.7" y="844.9" width="15.4" height="1" fill="#f2f2f2" opacity=".4"/><rect x="-8.7" y="866.6" width="17.4" height="1.2" fill="#4f4f4f" opacity=".75"/><rect x="-7.7" y="867.9" width="15.4" height="1" fill="#f2f2f2" opacity=".4"/><rect x="-8.7" y="870.6" width="17.4" height="1.2" fill="#4f4f4f" opacity=".75"/><rect x="-7.7" y="871.9" width="15.4" height="1" fill="#f2f2f2" opacity=".38"/><rect x="-8.7" y="889.6" width="17.4" height="1.2" fill="#4f4f4f" opacity=".75"/><rect x="-7.7" y="890.9" width="15.4" height="1" fill="#f2f2f2" opacity=".4"/><rect x="-8.7" y="912.6" width="17.4" height="1.2" fill="#4f4f4f" opacity=".75"/><rect x="-7.7" y="913.9" width="15.4" height="1" fill="#f2f2f2" opacity=".4"/><rect x="-8.7" y="935.6" width="17.4" height="1.2" fill="#4f4f4f" opacity=".75"/><rect x="-7.7" y="936.9" width="15.4" height="1" fill="#f2f2f2" opacity=".4"/><rect x="-8.7" y="958.6" width="17.4" height="1.2" fill="#4f4f4f" opacity=".75"/><rect x="-7.7" y="959.9" width="15.4" height="1" fill="#f2f2f2" opacity=".4"/><rect x="-8.7" y="981.6" width="17.4" height="1.2" fill="#4f4f4f" opacity=".75"/><rect x="-7.7" y="982.9" width="15.4" height="1" fill="#f2f2f2" opacity=".4"/><rect x="-8.7" y="985.6" width="17.4" height="1.2" fill="#4f4f4f" opacity=".75"/><rect x="-7.7" y="986.9" width="15.4" height="1" fill="#f2f2f2" opacity=".38"/><rect x="-8.7" y="1004.6" width="17.4" height="1.2" fill="#4f4f4f" opacity=".75"/><rect x="-7.7" y="1005.9" width="15.4" height="1" fill="#f2f2f2" opacity=".4"/><rect x="-8.7" y="1027.6" width="17.4" height="1.2" fill="#4f4f4f" opacity=".75"/><rect x="-7.7" y="1028.9" width="15.4" height="1" fill="#f2f2f2" opacity=".4"/><rect x="-8.7" y="1050.6" width="17.4" height="1.2" fill="#4f4f4f" opacity=".75"/><rect x="-7.7" y="1051.9" width="15.4" height="1" fill="#f2f2f2" opacity=".4"/><rect x="-8.7" y="1073.6" width="17.4" height="1.2" fill="#4f4f4f" opacity=".75"/><rect x="-7.7" y="1074.9" width="15.4" height="1" fill="#f2f2f2" opacity=".4"/><rect x="-8.7" y="1096.6" width="17.4" height="1.2" fill="#4f4f4f" opacity=".75"/><rect x="-7.7" y="1097.9" width="15.4" height="1" fill="#f2f2f2" opacity=".4"/><rect x="-8.7" y="1100.6" width="17.4" height="1.2" fill="#4f4f4f" opacity=".75"/><rect x="-7.7" y="1101.9" width="15.4" height="1" fill="#f2f2f2" opacity=".38"/><rect x="-8.7" y="1119.6" width="17.4" height="1.2" fill="#4f4f4f" opacity=".75"/><rect x="-7.7" y="1120.9" width="15.4" height="1" fill="#f2f2f2" opacity=".4"/><rect x="-8.7" y="1142.6" width="17.4" height="1.2" fill="#4f4f4f" opacity=".75"/><rect x="-7.7" y="1143.9" width="15.4" height="1" fill="#f2f2f2" opacity=".4"/><rect x="-8.7" y="1165.6" width="17.4" height="1.2" fill="#4f4f4f" opacity=".75"/><rect x="-7.7" y="1166.9" width="15.4" height="1" fill="#f2f2f2" opacity=".4"/><rect x="-8.7" y="1188.6" width="17.4" height="1.2" fill="#4f4f4f" opacity=".75"/><rect x="-7.7" y="1189.9" width="15.4" height="1" fill="#f2f2f2" opacity=".4"/><rect x="-8.7" y="1211.6" width="17.4" height="1.2" fill="#4f4f4f" opacity=".75"/><rect x="-7.7" y="1212.9" width="15.4" height="1" fill="#f2f2f2" opacity=".4"/><rect x="-8.7" y="1215.6" width="17.4" height="1.2" fill="#4f4f4f" opacity=".75"/><rect x="-7.7" y="1216.9" width="15.4" height="1" fill="#f2f2f2" opacity=".38"/><rect x="-8.7" y="1234.6" width="17.4" height="1.2" fill="#4f4f4f" opacity=".75"/><rect x="-7.7" y="1235.9" width="15.4" height="1" fill="#f2f2f2" opacity=".4"/><rect x="-8.7" y="1257.6" width="17.4" height="1.2" fill="#4f4f4f" opacity=".75"/><rect x="-7.7" y="1258.9" width="15.4" height="1" fill="#f2f2f2" opacity=".4"/><rect x="-8.7" y="1280.6" width="17.4" height="1.2" fill="#4f4f4f" opacity=".75"/><rect x="-7.7" y="1281.9" width="15.4" height="1" fill="#f2f2f2" opacity=".4"/><rect x="-8.7" y="1303.6" width="17.4" height="1.2" fill="#4f4f4f" opacity=".75"/><rect x="-7.7" y="1304.9" width="15.4" height="1" fill="#f2f2f2" opacity=".4"/><rect x="-8.7" y="1326.6" width="17.4" height="1.2" fill="#4f4f4f" opacity=".75"/><rect x="-7.7" y="1327.9" width="15.4" height="1" fill="#f2f2f2" opacity=".4"/><rect x="-8.7" y="1330.6" width="17.4" height="1.2" fill="#4f4f4f" opacity=".75"/><rect x="-7.7" y="1331.9" width="15.4" height="1" fill="#f2f2f2" opacity=".38"/><rect x="-8.7" y="1349.6" width="17.4" height="1.2" fill="#4f4f4f" opacity=".75"/><rect x="-7.7" y="1350.9" width="15.4" height="1" fill="#f2f2f2" opacity=".4"/><rect x="-8.7" y="1372.6" width="17.4" height="1.2" fill="#4f4f4f" opacity=".75"/><rect x="-7.7" y="1373.9" width="15.4" height="1" fill="#f2f2f2" opacity=".4"/><rect x="-8.7" y="1395.6" width="17.4" height="1.2" fill="#4f4f4f" opacity=".75"/><rect x="-7.7" y="1396.9" width="15.4" height="1" fill="#f2f2f2" opacity=".4"/><rect x="-8.7" y="1418.6" width="17.4" height="1.2" fill="#4f4f4f" opacity=".75"/><rect x="-7.7" y="1419.9" width="15.4" height="1" fill="#f2f2f2" opacity=".4"/>
</g>
<rect x="393.47" y="671" width="17.8" height="101.4" fill="#a2a2a2" opacity=".8"/>
<rect x="390.87" y="738" width="23" height="19" rx="1.5" fill="#aaa9a9" opacity=".93"/>
<rect x="392.5" y="69.2" width="22.4" height="31.2" rx="1.6" fill="url(#gCollar)"/>
<rect x="393.5" y="69.8" width="20.4" height="1" fill="#eee" opacity=".5"/>
<ellipse cx="403.7" cy="70" rx="10.6" ry="1.6" fill="#c9c9c9" stroke="#8c8c8c" stroke-width=".7"/>
<rect x="394.2" y="100" width="19" height="3.2" rx="1.2" fill="#1c1c1c"/>
<rect x="391.95" y="330.5" width="22.4" height="29.5" rx="1.6" fill="url(#gCollar)"/>
<rect x="392.95" y="331.1" width="20.4" height="1" fill="#eee" opacity=".5"/>
<rect x="393.65" y="359.6" width="19" height="3.2" rx="1.2" fill="#1c1c1c"/>
<rect x="391.42" y="582.5" width="22.4" height="30.5" rx="1.6" fill="url(#gCollar)"/>
<rect x="392.42" y="583.1" width="20.4" height="1" fill="#eee" opacity=".5"/>
<rect x="393.12" y="612.6" width="19" height="3.2" rx="1.2" fill="#1c1c1c"/>
<rect x="390.84" y="859.6" width="22.4" height="31.4" rx="1.6" fill="url(#gCollar)"/>
<rect x="391.84" y="860.2" width="20.4" height="1" fill="#eee" opacity=".5"/>
<rect x="392.54" y="890.6" width="19" height="3.2" rx="1.2" fill="#1c1c1c"/>
<rect x="390.3" y="1119" width="22.4" height="31.7" rx="1.6" fill="url(#gCollar)"/>
<rect x="391.3" y="1119.6" width="20.4" height="1" fill="#eee" opacity=".5"/>
<rect x="392" y="1150.3" width="19" height="3.2" rx="1.2" fill="#1c1c1c"/>
<rect x="389.8" y="1353" width="22.4" height="32" rx="1.6" fill="url(#gCollar)"/>
<rect x="390.8" y="1353.6" width="20.4" height="1" fill="#eee" opacity=".5"/>
<rect x="391.5" y="1384.6" width="19" height="3.2" rx="1.2" fill="#1c1c1c"/>
<ellipse cx="138.27" cy="143.4" rx="8.8" ry="1.5" fill="#c9c9c9" stroke="#8c8c8c" stroke-width=".7"/>
<rect x="9.14" y="1376" width="18.2" height="8" rx="1.8" fill="#2a2a2a"/>
<rect x="10.14" y="1376.8" width="16.2" height="1.4" fill="#666" opacity=".7"/>
<rect x="497.22" y="1375" width="17.4" height="8.8" rx="1.8" fill="#2a2a2a"/>
<rect x="498.22" y="1375.8" width="15.4" height="1.4" fill="#666" opacity=".7"/>
<rect x="391.07" y="1430.6" width="19.6" height="9" rx="1.8" fill="#2a2a2a"/>
<rect x="392.07" y="1431.4" width="17.6" height="1.4" fill="#666" opacity=".7"/>
<rect x="245" y="666" width="17.3" height="23" fill="url(#fadeOU)"/>
<polygon points="236,667.4 253.4,654 271,667.4" fill="#f6883f"/>
<rect x="245" y="759" width="17.3" height="24.5" fill="url(#fadeOD)"/>
<polygon points="236,782.5 271,782.5 253.4,796" fill="#f6883f"/>
</g>
<g id="panel1">
<g clip-path="url(#cpP1)">
<rect x="892" y="0" width="77" height="416" fill="url(#gBig1)"/>
<path d="M892 50 Q930 45 969 50" fill="none" stroke="#7c7c7c" stroke-width="1.3"/>
<path d="M892 52 Q930 47 969 52" fill="none" stroke="#e6e6e6" stroke-width="1" opacity=".7"/>
<line x1="892" y1="234" x2="969" y2="234" stroke="#6b6b6b" stroke-width="1.6" opacity="1"/>
<line x1="892" y1="236" x2="969" y2="236" stroke="#e2e2e2" stroke-width="1.2" opacity="0.8"/>
<rect x="892" y="237" width="77" height="14" fill="#fff" opacity=".12"/>
<line x1="892" y1="251" x2="969" y2="251" stroke="#8a8a8a" stroke-width="1.1" opacity="1"/>
<line x1="892" y1="322" x2="969" y2="322" stroke="#7a7a7a" stroke-width="1.3" opacity="1"/>
<line x1="892" y1="324" x2="969" y2="324" stroke="#e2e2e2" stroke-width="1" opacity="0.7"/>
<rect x="886" y="138" width="90" height="9" rx="4" fill="#f08a3c" opacity=".75" filter="url(#blur2)"/>
<path d="M890 142 L973 142" fill="none" stroke="#e8772a" stroke-width="4.8" stroke-linecap="round" filter="url(#blur1)"/>
</g>
<rect x="808" y="52" width="40" height="17" fill="url(#fadeR)"/>
<polygon points="846,42 866.5,60.5 846,79" fill="#bebebe"/>
<rect x="1025" y="49.5" width="40" height="16.5" fill="url(#fadeL)"/>
<polygon points="1027,41 1008,58 1027,76" fill="#bebebe"/>
<path d="M797 104 L803.5 103 L804 107.5 Q832 111.5 860 107.2 Q861.5 107 861.5 109 L861.5 141 L850 141 L850 171 L864 171 L864.5 202 Q830 204.5 795 202.5 Z" fill="url(#gClip)"/>
<path d="M797 104 L803.5 103 L803.5 200 L795 202.5 Z" fill="#3f3f3f"/>
<line x1="804" y1="107" x2="802.5" y2="201" stroke="#5b5b5b" stroke-width="1"/>
<rect x="811" y="141" width="3" height="28" fill="#6a6a6a"/>
<line x1="804" y1="170" x2="812" y2="170" stroke="#505050" stroke-width="1"/>
<path d="M850 171 L864 171 L864.5 202 L850 203 Z" fill="#1d1d1d"/>
<rect x="797" y="135" width="70" height="9" rx="4" fill="#f08a3c" opacity=".8" filter="url(#blur2)"/>
<path d="M800 138.5 Q832 141.5 865 139" fill="none" stroke="#e36f22" stroke-width="5.4" filter="url(#blur1)"/>
<path d="M998 109 Q998 107.5 1000 107.8 Q1026 112 1052 108 L1052 104 L1061.5 103 Q1063 103 1063.3 105 L1065.8 203 Q1030 205.5 996.5 203 L997 170 L991 170 L991 142 L998 142 Z" fill="url(#gClip)"/>
<path d="M1052 104 L1061.5 103 Q1063 103 1063.3 105 L1064.2 139 L1052 140 Z" fill="#484848"/>
<path d="M1052 171 L1065 171 L1065.8 203 L1052 204 Z" fill="#454545"/>
<path d="M991 142 L998 142 L998 170 L991 170 Z" fill="#1b1b1b"/>
<rect x="992" y="137" width="63" height="9" rx="4" fill="#f08a3c" opacity=".75" filter="url(#blur2)"/>
<path d="M994 140 Q1022 143 1053 140.5" fill="none" stroke="#e36f22" stroke-width="5.4" filter="url(#blur1)"/>
<g clip-path="url(#cpC1)">
<rect x="1050" y="235" width="170" height="165" fill="#fff"/>
<rect x="1105" y="236" width="44.6" height="164" fill="url(#gInset)"/>
<line x1="1105" y1="246" x2="1149.6" y2="246" stroke="#8a8a8a" stroke-width="1" opacity="1"/>
<line x1="1105" y1="248.5" x2="1149.6" y2="248.5" stroke="#aaa" stroke-width="1" opacity="1"/>
<line x1="1105" y1="356" x2="1149.6" y2="356" stroke="#777" stroke-width="1" opacity="1"/>
<line x1="1105" y1="358.5" x2="1149.6" y2="358.5" stroke="#999" stroke-width="1" opacity="1"/>
<line x1="1105" y1="361" x2="1149.6" y2="361" stroke="#bbb" stroke-width="1" opacity="1"/>
<path d="M1101.6 284.5 Q1101.6 282.6 1104 282.6 L1150 282.6 Q1152 282.6 1152.1 284.5 L1154 349 Q1154 351 1152 351 L1100.5 351 Q1098.4 351 1098.5 349 Z" fill="url(#gClipBig)"/>
<path d="M1146.5 283.5 L1152 283.5 L1154 350 L1148 350 L1148 329 L1153 329 L1152.6 307.5 L1148.5 307.5 L1148.5 300 L1146.5 300 Z" fill="#4a4a4a"/>
<text x="1105.5" y="316" font-family='"Liberation Sans", Arial, sans-serif' font-weight="700" font-size="12.5" fill="#202020" textLength="22" lengthAdjust="spacingAndGlyphs">TOP</text>
<path d="M1114 291 L1117.5 297 L1110.5 297 Z M1112.2 297 L1115.8 297 L1115.8 301 L1112.2 301 Z" fill="#232323"/>
<rect x="1112" y="322" width="4.5" height="4.5" fill="#1a1a1a"/>
</g>
<circle cx="1134.5" cy="317" r="78.3" fill="none" stroke="#9b9b9b" stroke-width="1.5"/>
<g clip-path="url(#cpP1)"><rect x="756" y="414.6" width="474.5" height="69.9" fill="#383838"/></g>
<rect x="757.4" y="3.4" width="471.7" height="479.7" rx="27" fill="none" stroke="#262626" stroke-width="2.8"/>
<text y="463.5" font-family='"Liberation Sans", Arial, sans-serif' font-weight="700" font-size="38.6" fill="#fff" stroke="#fff" stroke-width="0.9" stroke-linejoin="round" xml:space="preserve"><tspan x="766.98" textLength="193.04" lengthAdjust="spacingAndGlyphs">Installation</tspan> <tspan x="968.56" textLength="33.58" lengthAdjust="spacingAndGlyphs">of</tspan> <tspan x="1010.51" textLength="109.98" lengthAdjust="spacingAndGlyphs">Plastic</tspan> <tspan x="1129" textLength="80.48" lengthAdjust="spacingAndGlyphs">Clips</tspan></text>
</g>
<g id="panel2">
<g clip-path="url(#cpP2)">
<rect x="933" y="509" width="124" height="90" fill="url(#gBig2)"/>
<rect x="932" y="780" width="124.5" height="142" fill="url(#gBig2b)"/>
<rect x="933" y="780" width="123" height="20" fill="#fff" opacity=".12"/>
<line x1="932" y1="783.5" x2="1056.5" y2="783.5" stroke="#4a4a4a" stroke-width="2.5" opacity="0.6"/>
<path d="M932 803 Q994.5 809.5 1056.5 803" fill="none" stroke="#4e4e4e" stroke-width="1.6"/>
<path d="M932 805.2 Q994.5 811.7 1056.5 805.2" fill="none" stroke="#dedede" stroke-width="1.3" opacity=".75"/>
</g>
<path d="M926.6 597 Q927 594.2 931 593.8 Q995 591.5 1060 593.8 Q1064 594.2 1064.2 597 L1069.6 778.5 Q1069.6 781.6 1066 781.8 Q994 784.5 922.5 781.8 Q918.8 781.6 919 778.5 L921.6 662 Z" fill="url(#gClipBig)"/>
<path d="M931 593.8 Q995 591.5 1060 593.8 Q1064 594.2 1064.2 597 Q995 594.5 926.6 597 Q927 594.2 931 593.8 Z" fill="#4c4c4c"/>
<path d="M921.6 650 L919.6 652 L919.3 690 L921 690 Z" fill="#3c3c3c"/>
<circle cx="926.5" cy="666" r="1.2" fill="#111"/>
<path d="M1066.3 655 L1067.8 657 L1068.4 685 L1067 685 Z" fill="#3c3c3c"/>
<path d="M974.3 594 L1006.6 594 L1006.6 658 L1026 658 L1026 726.7 L1008.2 726.7 L1008.2 782.5 L975.9 782.5 L975.9 717.8 L992.9 717.8 L992.9 663.7 L974.3 663.7 Z" fill="#151515" opacity=".55"/>
<rect x="983" y="594" width="5" height="67" fill="#070707"/>
<rect x="988" y="596" width="1.2" height="65" fill="#4a4a4a"/>
<rect x="1011.5" y="664" width="4.2" height="57" fill="#060606"/>
<rect x="1010.3" y="664" width="1.2" height="57" fill="#454545"/>
<rect x="982.6" y="722" width="4.8" height="60.5" fill="#070707"/>
<rect x="987.4" y="722" width="1.2" height="60" fill="#454545"/>
<path d="M974.3 588.8 L1006.6 588.8 L1006.6 658 L1026 658 L1026 726.7 L1008.2 726.7 L1008.2 786.5 L975.9 786.5 L975.9 717.8 L992.9 717.8 L992.9 663.7 L974.3 663.7 Z" fill="none" stroke="#ea7730" stroke-width="2.5" stroke-dasharray="6.5 2.6"/>
<g clip-path="url(#cpP2)"><rect x="756" y="921.3" width="474.5" height="70.7" fill="#383838"/></g>
<rect x="757.4" y="510.4" width="471.7" height="480.2" rx="27" fill="none" stroke="#262626" stroke-width="2.8"/>
<text y="968.1" font-family='"Liberation Sans", Arial, sans-serif' font-weight="700" font-size="38.6" fill="#fff" stroke="#fff" stroke-width="0.9" stroke-linejoin="round" xml:space="preserve"><tspan x="770" textLength="85.48" lengthAdjust="spacingAndGlyphs">Gaps</tspan> <tspan x="864" textLength="150.02" lengthAdjust="spacingAndGlyphs">Between</tspan> <tspan x="1021.51" textLength="110" lengthAdjust="spacingAndGlyphs">Plastic</tspan> <tspan x="1141.02" textLength="79.47" lengthAdjust="spacingAndGlyphs">Clips</tspan></text>
</g>
<g id="panel3">
<g clip-path="url(#cpP3)">
<polygon points="758,1086 916,1074 916,1146 758,1147" fill="#8e8e8e"/>
<line x1="758" y1="1094.78" x2="916" y2="1083.33" stroke="#c2c2c2" stroke-width="2.8"/>
<line x1="758" y1="1097.38" x2="916" y2="1085.93" stroke="#6a6a6a" stroke-width="1.8"/>
<line x1="758" y1="1100.33" x2="916" y2="1090" stroke="#c2c2c2" stroke-width="2.8"/>
<line x1="758" y1="1102.93" x2="916" y2="1092.6" stroke="#6a6a6a" stroke-width="1.8"/>
<line x1="758" y1="1105.89" x2="916" y2="1096.67" stroke="#c2c2c2" stroke-width="2.8"/>
<line x1="758" y1="1108.49" x2="916" y2="1099.27" stroke="#6a6a6a" stroke-width="1.8"/>
<line x1="758" y1="1111.44" x2="916" y2="1103.33" stroke="#c2c2c2" stroke-width="2.8"/>
<line x1="758" y1="1114.04" x2="916" y2="1105.93" stroke="#6a6a6a" stroke-width="1.8"/>
<line x1="758" y1="1117" x2="916" y2="1110" stroke="#c2c2c2" stroke-width="2.8"/>
<line x1="758" y1="1119.6" x2="916" y2="1112.6" stroke="#6a6a6a" stroke-width="1.8"/>
<line x1="758" y1="1122.56" x2="916" y2="1116.67" stroke="#c2c2c2" stroke-width="2.8"/>
<line x1="758" y1="1125.16" x2="916" y2="1119.27" stroke="#6a6a6a" stroke-width="1.8"/>
<line x1="758" y1="1128.11" x2="916" y2="1123.33" stroke="#c2c2c2" stroke-width="2.8"/>
<line x1="758" y1="1130.71" x2="916" y2="1125.93" stroke="#6a6a6a" stroke-width="1.8"/>
<line x1="758" y1="1133.67" x2="916" y2="1130" stroke="#c2c2c2" stroke-width="2.8"/>
<line x1="758" y1="1136.27" x2="916" y2="1132.6" stroke="#6a6a6a" stroke-width="1.8"/>
<line x1="758" y1="1139.22" x2="916" y2="1136.67" stroke="#c2c2c2" stroke-width="2.8"/>
<line x1="758" y1="1141.82" x2="916" y2="1139.27" stroke="#6a6a6a" stroke-width="1.8"/>
<ellipse cx="783" cy="1096" rx="3" ry="1.3" fill="#555"/>
<ellipse cx="833" cy="1100" rx="3" ry="1.3" fill="#555"/>
<ellipse cx="879" cy="1103" rx="3" ry="1.3" fill="#555"/>
<ellipse cx="789" cy="1122" rx="3" ry="1.3" fill="#555"/>
<ellipse cx="826" cy="1124" rx="3" ry="1.3" fill="#555"/>
<ellipse cx="861" cy="1125" rx="3" ry="1.3" fill="#555"/>
<ellipse cx="790" cy="1134" rx="3" ry="1.3" fill="#555"/>
<ellipse cx="851" cy="1136" rx="3" ry="1.3" fill="#555"/>
<polyline points="758,1166 771.8,1157.6" fill="none" stroke="#5a5a5a" stroke-width="3.8" stroke-linejoin="round" stroke-linecap="round"/>
<polyline points="758,1166 771.8,1157.6" fill="none" stroke="#8c8c8c" stroke-width="2.6" stroke-linejoin="round" stroke-linecap="round"/>
<polyline points="758,1165.47 771.8,1157.07" fill="none" stroke="#c8c8c8" stroke-width="1.14" stroke-linejoin="round" stroke-linecap="round"/>
<polyline points="798.5,1156.5 808.8,1164.8 823,1155.5" fill="none" stroke="#5a5a5a" stroke-width="3.8" stroke-linejoin="round" stroke-linecap="round"/>
<polyline points="798.5,1156.5 808.8,1164.8 823,1155.5" fill="none" stroke="#8c8c8c" stroke-width="2.6" stroke-linejoin="round" stroke-linecap="round"/>
<polyline points="798.5,1155.97 808.8,1164.27 823,1154.97" fill="none" stroke="#c8c8c8" stroke-width="1.14" stroke-linejoin="round" stroke-linecap="round"/>
<polyline points="848,1154.5 862.4,1163.7 876.8,1155.5" fill="none" stroke="#5a5a5a" stroke-width="3.8" stroke-linejoin="round" stroke-linecap="round"/>
<polyline points="848,1154.5 862.4,1163.7 876.8,1155.5" fill="none" stroke="#8c8c8c" stroke-width="2.6" stroke-linejoin="round" stroke-linecap="round"/>
<polyline points="848,1153.97 862.4,1163.17 876.8,1154.97" fill="none" stroke="#c8c8c8" stroke-width="1.14" stroke-linejoin="round" stroke-linecap="round"/>
<polyline points="905,1154 916,1161" fill="none" stroke="#5a5a5a" stroke-width="3.8" stroke-linejoin="round" stroke-linecap="round"/>
<polyline points="905,1154 916,1161" fill="none" stroke="#8c8c8c" stroke-width="2.6" stroke-linejoin="round" stroke-linecap="round"/>
<polyline points="905,1153.47 916,1160.47" fill="none" stroke="#c8c8c8" stroke-width="1.14" stroke-linejoin="round" stroke-linecap="round"/>
<line x1="758" y1="1169" x2="918" y2="1167.5" stroke="#585858" stroke-width="4.8" stroke-linecap="butt"/>
<line x1="758" y1="1169" x2="918" y2="1167.5" stroke="#8a8a8a" stroke-width="3.6" stroke-linecap="butt"/>
<line x1="757.99" y1="1168.33" x2="917.99" y2="1166.83" stroke="#bdbdbd" stroke-width="1.54" stroke-linecap="butt"/>
<polygon points="758,1143.5 921,1141.6 921,1153.4 758,1155.4" fill="#a3a3a3"/>
<line x1="758" y1="1143.5" x2="921" y2="1141.6" stroke="#6e6e6e" stroke-width="1.3"/>
<line x1="758" y1="1148" x2="921" y2="1146" stroke="#bcbcbc" stroke-width="3"/>
<line x1="758" y1="1155.2" x2="921" y2="1153.2" stroke="#727272" stroke-width="1.3"/>
<polyline points="771.8,1092.7 817,1138 850,1112" fill="none" stroke="#505050" stroke-width="7" stroke-linejoin="round" stroke-linecap="round"/>
<polyline points="771.8,1092.7 817,1138 850,1112" fill="none" stroke="#8c8c8c" stroke-width="5.8" stroke-linejoin="round" stroke-linecap="round"/>
<polyline points="771.8,1091.72 817,1137.02 850,1111.02" fill="none" stroke="#d2d2d2" stroke-width="2.1" stroke-linejoin="round" stroke-linecap="round"/>
<path d="M758 1089 L900 1077.5 Q920 1075 925 1073 L926 1063 Q915 1066 900 1066.5 L758 1078 Z" fill="#a5a5a5"/>
<path d="M758 1078.6 L900 1067 Q915 1066.3 926 1063.5" fill="none" stroke="#555" stroke-width="1.8"/>
<path d="M758 1083.5 L900 1071.7 Q915 1070.5 925 1068" fill="none" stroke="#c3c3c3" stroke-width="3"/>
<path d="M758 1089 L900 1077.5 Q920 1075 925 1073" fill="none" stroke="#707070" stroke-width="1.4"/>
<polygon points="1006,1074 1236,1101 1236,1145 1006,1137" fill="#909090"/>
<line x1="1006" y1="1082.7" x2="1236" y2="1106.8" stroke="#c6c6c6" stroke-width="2.6"/>
<line x1="1006" y1="1085.2" x2="1236" y2="1109.3" stroke="#6a6a6a" stroke-width="1.6"/>
<line x1="1006" y1="1088.1" x2="1236" y2="1110.4" stroke="#c6c6c6" stroke-width="2.6"/>
<line x1="1006" y1="1090.6" x2="1236" y2="1112.9" stroke="#6a6a6a" stroke-width="1.6"/>
<line x1="1006" y1="1093.5" x2="1236" y2="1114" stroke="#c6c6c6" stroke-width="2.6"/>
<line x1="1006" y1="1096" x2="1236" y2="1116.5" stroke="#6a6a6a" stroke-width="1.6"/>
<line x1="1006" y1="1098.9" x2="1236" y2="1117.6" stroke="#c6c6c6" stroke-width="2.6"/>
<line x1="1006" y1="1101.4" x2="1236" y2="1120.1" stroke="#6a6a6a" stroke-width="1.6"/>
<line x1="1006" y1="1104.3" x2="1236" y2="1121.2" stroke="#c6c6c6" stroke-width="2.6"/>
<line x1="1006" y1="1106.8" x2="1236" y2="1123.7" stroke="#6a6a6a" stroke-width="1.6"/>
<line x1="1006" y1="1109.7" x2="1236" y2="1124.8" stroke="#c6c6c6" stroke-width="2.6"/>
<line x1="1006" y1="1112.2" x2="1236" y2="1127.3" stroke="#6a6a6a" stroke-width="1.6"/>
<line x1="1006" y1="1115.1" x2="1236" y2="1128.4" stroke="#c6c6c6" stroke-width="2.6"/>
<line x1="1006" y1="1117.6" x2="1236" y2="1130.9" stroke="#6a6a6a" stroke-width="1.6"/>
<line x1="1006" y1="1120.5" x2="1236" y2="1132" stroke="#c6c6c6" stroke-width="2.6"/>
<line x1="1006" y1="1123" x2="1236" y2="1134.5" stroke="#6a6a6a" stroke-width="1.6"/>
<line x1="1006" y1="1125.9" x2="1236" y2="1135.6" stroke="#c6c6c6" stroke-width="2.6"/>
<line x1="1006" y1="1128.4" x2="1236" y2="1138.1" stroke="#6a6a6a" stroke-width="1.6"/>
<line x1="1006" y1="1131.3" x2="1236" y2="1139.2" stroke="#c6c6c6" stroke-width="2.6"/>
<line x1="1006" y1="1133.8" x2="1236" y2="1141.7" stroke="#6a6a6a" stroke-width="1.6"/>
<polyline points="1039,1151.5 1057,1161 1074.7,1153" fill="none" stroke="#5a5a5a" stroke-width="3.8" stroke-linejoin="round" stroke-linecap="round"/>
<polyline points="1039,1151.5 1057,1161 1074.7,1153" fill="none" stroke="#8c8c8c" stroke-width="2.6" stroke-linejoin="round" stroke-linecap="round"/>
<polyline points="1039,1150.97 1057,1160.47 1074.7,1152.47" fill="none" stroke="#c8c8c8" stroke-width="1.14" stroke-linejoin="round" stroke-linecap="round"/>
<polyline points="1119.8,1153 1133.4,1159.7 1148.4,1154" fill="none" stroke="#5a5a5a" stroke-width="3.8" stroke-linejoin="round" stroke-linecap="round"/>
<polyline points="1119.8,1153 1133.4,1159.7 1148.4,1154" fill="none" stroke="#8c8c8c" stroke-width="2.6" stroke-linejoin="round" stroke-linecap="round"/>
<polyline points="1119.8,1152.47 1133.4,1159.17 1148.4,1153.47" fill="none" stroke="#c8c8c8" stroke-width="1.14" stroke-linejoin="round" stroke-linecap="round"/>
<polyline points="1205,1154 1217,1159 1232,1154" fill="none" stroke="#5a5a5a" stroke-width="3.8" stroke-linejoin="round" stroke-linecap="round"/>
<polyline points="1205,1154 1217,1159 1232,1154" fill="none" stroke="#8c8c8c" stroke-width="2.6" stroke-linejoin="round" stroke-linecap="round"/>
<polyline points="1205,1153.47 1217,1158.47 1232,1153.47" fill="none" stroke="#c8c8c8" stroke-width="1.14" stroke-linejoin="round" stroke-linecap="round"/>
<line x1="1006" y1="1165" x2="1236" y2="1162.8" stroke="#585858" stroke-width="4.8" stroke-linecap="butt"/>
<line x1="1006" y1="1165" x2="1236" y2="1162.8" stroke="#8a8a8a" stroke-width="3.6" stroke-linecap="butt"/>
<line x1="1005.99" y1="1164.33" x2="1235.99" y2="1162.13" stroke="#bdbdbd" stroke-width="1.54" stroke-linecap="butt"/>
<polygon points="1004,1134 1238,1142 1238,1154.6 1004,1149" fill="#a8a8a8"/>
<line x1="1004" y1="1134" x2="1238" y2="1142" stroke="#747474" stroke-width="1.3"/>
<line x1="1004" y1="1139.5" x2="1238" y2="1146.5" stroke="#bdbdbd" stroke-width="3.4"/>
<line x1="1004" y1="1149" x2="1238" y2="1154.6" stroke="#767676" stroke-width="1.3"/>
<polyline points="1042,1109 1069,1134 1132,1094 1184,1138 1236,1100" fill="none" stroke="#505050" stroke-width="7" stroke-linejoin="round" stroke-linecap="round"/>
<polyline points="1042,1109 1069,1134 1132,1094 1184,1138 1236,1100" fill="none" stroke="#8c8c8c" stroke-width="5.8" stroke-linejoin="round" stroke-linecap="round"/>
<polyline points="1042,1108.02 1069,1133.02 1132,1093.02 1184,1137.02 1236,1099.02" fill="none" stroke="#d4d4d4" stroke-width="2.1" stroke-linejoin="round" stroke-linecap="round"/>
<circle cx="1043.5" cy="1110" r="3.8" fill="#dcdcdc" stroke="#666" stroke-width="1.1"/>
<path d="M1004 1063.5 Q1012 1066 1030 1068 L1238 1092 L1238 1104 L1030 1080 Q1015 1078.5 1004 1078 Z" fill="#aaaaaa"/>
<path d="M1004 1063.5 Q1012 1066 1030 1068 L1238 1092" fill="none" stroke="#868686" stroke-width="1.2"/>
<path d="M1006 1070 Q1015 1072 1030 1073.5 L1238 1097.5" fill="none" stroke="#bebebe" stroke-width="3.2"/>
<path d="M1004 1078 Q1015 1078.5 1030 1080 L1238 1104" fill="none" stroke="#6c6c6c" stroke-width="1.5"/>
<rect x="922" y="1014" width="77" height="414" fill="url(#gBig3)"/>
<line x1="922" y1="1185" x2="999" y2="1185" stroke="#7a7a7a" stroke-width="1.4" opacity="1"/>
<line x1="922" y1="1187" x2="999" y2="1187" stroke="#ededed" stroke-width="1.2" opacity="0.8"/>
<rect x="922" y="1170" width="77" height="15" fill="#fff" opacity=".15"/>
<path d="M922 1368 Q960.5 1373.5 999 1368" fill="none" stroke="#6e6e6e" stroke-width="1.4"/>
<path d="M922 1370.2 Q960.5 1375.7 999 1370.2" fill="none" stroke="#d5d5d5" stroke-width="2.2" opacity=".8"/>
<line x1="922" y1="1207" x2="999" y2="1207" stroke="#999" stroke-width="1" opacity="0.6"/>
<line x1="922" y1="1211" x2="999" y2="1211" stroke="#888" stroke-width="1" opacity="0.6"/>
<line x1="922" y1="1346" x2="999" y2="1346" stroke="#999" stroke-width="1" opacity="0.6"/>
<path d="M916.4 1053 Q916.4 1049 921 1049 L1003.5 1049 Q1007.8 1049 1007.8 1053 L1008.6 1165.5 Q1008.6 1169.5 1004 1169.5 L920 1169.5 Q915.8 1169.5 915.9 1165.5 Z" fill="url(#gSleeve3)"/>
<line x1="918" y1="1050" x2="1006" y2="1050" stroke="#858585" stroke-width="1.2" opacity="0.7"/>
<line x1="918" y1="1168.8" x2="1007" y2="1168.8" stroke="#7e7e7e" stroke-width="1.4" opacity="0.8"/>
<path d="M912 1066.2 Q921 1064.5 924 1063.2 Q928.5 1063.5 928 1069 Q927.5 1073.5 922 1075 Q917 1076.3 912 1076.8 Z" fill="#a9a9a9"/>
<path d="M912 1066.2 Q921 1064.5 924 1063.2 Q928.5 1063.5 928 1069 Q927.5 1073.5 922 1075 Q917 1076.3 912 1076.8" fill="none" stroke="#6a6a6a" stroke-width="1.1"/>
<path d="M912 1070.6 Q920 1069.5 925 1067.5" fill="none" stroke="#c6c6c6" stroke-width="2.4"/>
<path d="M1012 1064.5 Q1005.5 1062.5 1004.5 1069 Q1004 1076 1012 1078 Z" fill="#ababab" stroke="#8a8a8a" stroke-width=".8"/>
<path d="M922 1221 Q922 1217 927 1217 L995 1217 Q999.5 1217 999.7 1221 L1004.8 1336 Q1005 1340.6 1000 1340.6 L921.5 1340.6 Q916.8 1340.6 917 1336 Z" fill="url(#gClip3)"/>
<path d="M927 1217 L995 1217 Q999.5 1217 999.7 1221 L923 1221 Q922.5 1217 927 1217 Z" fill="#3a3a3a" opacity=".7"/>
<path d="M996 1262 L1003 1262 L1004 1298 L997 1298 Z" fill="#333"/>
<text x="929" y="1278.5" font-family='"Liberation Sans", Arial, sans-serif' font-weight="700" font-size="24" fill="#0d0d0d" stroke="#3d3d3d" stroke-width=".8" textLength="36" lengthAdjust="spacingAndGlyphs">TOP</text>
<path d="M946 1232 L950 1246 L947.3 1246 L947.3 1266 L944.7 1266 L944.7 1246 L942 1246 Z" fill="#141414" stroke="#333" stroke-width=".4"/>
<ellipse cx="946" cy="1294" rx="2.6" ry="3.4" fill="#101010" stroke="#3a3a3a" stroke-width=".6"/>
</g>
<rect x="851.5" y="1192" width="18" height="42" fill="url(#fadeD)"/>
<polygon points="842,1232.5 878.8,1232.5 860.4,1252.6" fill="#bdbdbd"/>
<rect x="1031" y="1192" width="18" height="42" fill="url(#fadeD)"/>
<polygon points="1021.6,1232.5 1058.4,1232.5 1040,1252.6" fill="#bdbdbd"/>
<g clip-path="url(#cpC2)">
<rect x="1055" y="1245" width="170" height="170" fill="#fff"/>
<line x1="1050" y1="1303" x2="1122" y2="1317" stroke="#5c5c5c" stroke-width="8" stroke-linecap="butt"/>
<line x1="1050" y1="1303" x2="1122" y2="1317" stroke="#848484" stroke-width="6.8" stroke-linecap="butt"/>
<line x1="1050.21" y1="1301.9" x2="1122.21" y2="1315.9" stroke="#adadad" stroke-width="2.56" stroke-linecap="butt"/>
<line x1="1050" y1="1339.5" x2="1122" y2="1357" stroke="#5c5c5c" stroke-width="8.5" stroke-linecap="butt"/>
<line x1="1050" y1="1339.5" x2="1122" y2="1357" stroke="#848484" stroke-width="7.3" stroke-linecap="butt"/>
<line x1="1050.28" y1="1338.34" x2="1122.28" y2="1355.84" stroke="#adadad" stroke-width="2.72" stroke-linecap="butt"/>
<line x1="1095" y1="1331.6" x2="1068" y2="1345.6" stroke="#5a5a5a" stroke-width="5.5" stroke-linecap="round"/>
<line x1="1095" y1="1331.6" x2="1068" y2="1345.6" stroke="#848484" stroke-width="4.3" stroke-linecap="round"/>
<line x1="1094.65" y1="1330.92" x2="1067.65" y2="1344.92" stroke="#b5b5b5" stroke-width="1.76" stroke-linecap="round"/>
<line x1="1176" y1="1315.6" x2="1222" y2="1305.8" stroke="#5c5c5c" stroke-width="8" stroke-linecap="butt"/>
<line x1="1176" y1="1315.6" x2="1222" y2="1305.8" stroke="#878787" stroke-width="6.8" stroke-linecap="butt"/>
<line x1="1175.77" y1="1314.5" x2="1221.77" y2="1304.7" stroke="#bcbcbc" stroke-width="2.56" stroke-linecap="butt"/>
<line x1="1177.6" y1="1357" x2="1222" y2="1348.2" stroke="#5c5c5c" stroke-width="7.5" stroke-linecap="butt"/>
<line x1="1177.6" y1="1357" x2="1222" y2="1348.2" stroke="#878787" stroke-width="6.3" stroke-linecap="butt"/>
<line x1="1177.4" y1="1355.97" x2="1221.8" y2="1347.17" stroke="#bcbcbc" stroke-width="2.4" stroke-linecap="butt"/>
<path d="M1119 1300 L1176.8 1300 L1176.8 1370 Q1148 1381 1119 1370 Z" fill="url(#gSleeve4)"/>
<path d="M1119 1300 L1131 1300 L1129 1372 L1119 1370 Z" fill="#6f6f6f" opacity=".45"/>
<ellipse cx="1147.9" cy="1370.5" rx="28.9" ry="5.6" fill="#8b8b8b" stroke="#b9b9b9" stroke-width="1.3"/>
<ellipse cx="1147.9" cy="1371.5" rx="24" ry="3.6" fill="#6f6f6f"/>
<ellipse cx="1147.9" cy="1299.8" rx="28.9" ry="5.8" fill="#8d8d8d" stroke="#bdbdbd" stroke-width="1.2"/>
<ellipse cx="1147.9" cy="1300.8" rx="25" ry="4" fill="#777"/>
<rect x="1144" y="1356" width="7.2" height="12.5" fill="#5a5a5a"/>
<line x1="1075" y1="1276.3" x2="1160" y2="1250.8" stroke="#555" stroke-width="5" stroke-linecap="butt"/>
<line x1="1075" y1="1276.3" x2="1160" y2="1250.8" stroke="#868686" stroke-width="3.8" stroke-linecap="butt"/>
<line x1="1074.8" y1="1275.63" x2="1159.8" y2="1250.13" stroke="#c8c8c8" stroke-width="1.6" stroke-linecap="butt"/>
<line x1="1060" y1="1303.8" x2="1196" y2="1269.2" stroke="#555" stroke-width="5.2" stroke-linecap="butt"/>
<line x1="1060" y1="1303.8" x2="1196" y2="1269.2" stroke="#868686" stroke-width="4" stroke-linecap="butt"/>
<line x1="1059.82" y1="1303.09" x2="1195.82" y2="1268.49" stroke="#c8c8c8" stroke-width="1.66" stroke-linecap="butt"/>
<line x1="1110" y1="1313" x2="1210" y2="1288.6" stroke="#555" stroke-width="5.2" stroke-linecap="butt"/>
<line x1="1110" y1="1313" x2="1210" y2="1288.6" stroke="#868686" stroke-width="4" stroke-linecap="butt"/>
<line x1="1109.83" y1="1312.29" x2="1209.83" y2="1287.89" stroke="#c8c8c8" stroke-width="1.66" stroke-linecap="butt"/>
</g>
<circle cx="1138.8" cy="1329.3" r="78.5" fill="none" stroke="#9b9b9b" stroke-width="1.5"/>
<g clip-path="url(#cpP3)"><rect x="761" y="1425.8" width="474" height="70.2" fill="#383838"/></g>
<rect x="762.4" y="1015.4" width="471.2" height="479.2" rx="27" fill="none" stroke="#262626" stroke-width="2.8"/>
<text y="1469.8" font-family='"Liberation Sans", Arial, sans-serif' font-weight="700" font-size="38.6" fill="#fff" stroke="#fff" stroke-width="0.9" stroke-linejoin="round" xml:space="preserve"><tspan x="812.5" textLength="167" lengthAdjust="spacingAndGlyphs">Assembly</tspan> <tspan x="991.6" textLength="33.94" lengthAdjust="spacingAndGlyphs">of</tspan> <tspan x="1031.34" textLength="52.14" lengthAdjust="spacingAndGlyphs">the</tspan> <tspan x="1093.52" textLength="85.51" lengthAdjust="spacingAndGlyphs">Shelf</tspan></text>
</g>
</svg>
</body></html>
